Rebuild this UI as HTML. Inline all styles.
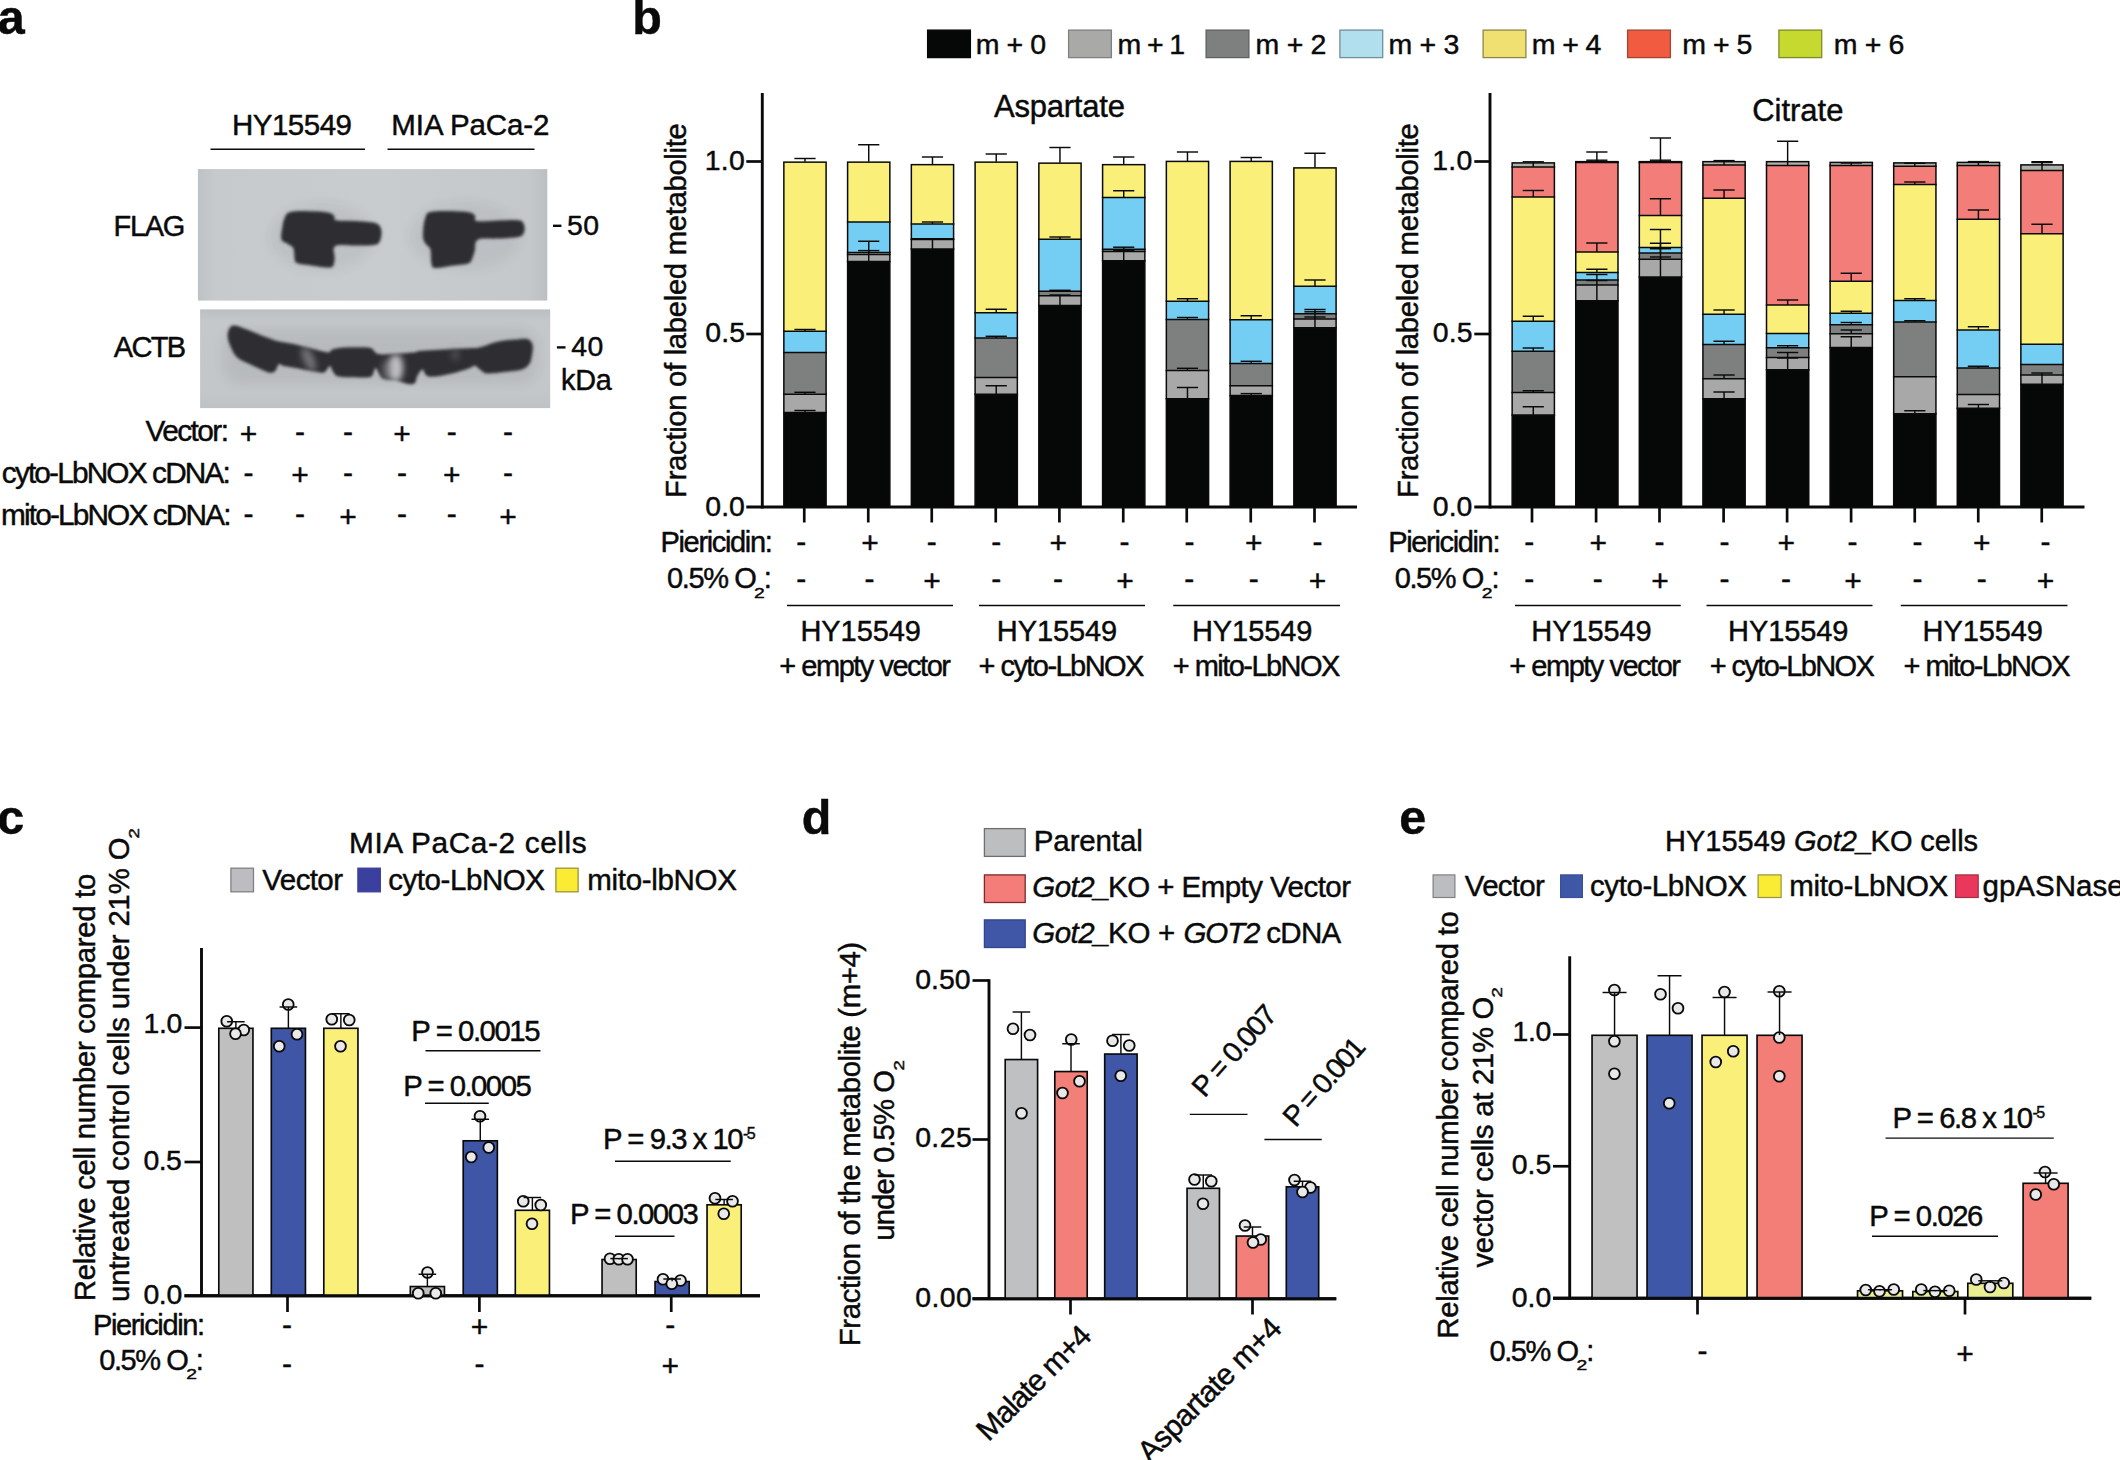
<!DOCTYPE html>
<html lang="en">
<head>
<meta charset="utf-8">
<title>Figure: LbNOX expression, labeled metabolite fractions and relative cell numbers</title>
<style>
html,body{margin:0;padding:0;background:#ffffff;}
body{width:2120px;height:1460px;overflow:hidden;}
svg{display:block;}
svg text{font-family:'Liberation Sans', Arial, Helvetica, sans-serif;fill:#0a0a0a;stroke:#0a0a0a;stroke-width:0.45px;stroke-linejoin:round;}
</style>
</head>
<body>
<svg width="2120" height="1460" viewBox="0 0 2120 1460">
<rect x="0" y="0" width="2120" height="1460" fill="#ffffff"/>
<defs>
<filter id="bl1" x="-10%" y="-10%" width="120%" height="120%"><feGaussianBlur stdDeviation="1.6"/></filter>
<filter id="bl2" x="-20%" y="-20%" width="140%" height="140%"><feGaussianBlur stdDeviation="3.2"/></filter>
<filter id="bl3" x="-30%" y="-30%" width="160%" height="160%"><feGaussianBlur stdDeviation="6"/></filter>
<linearGradient id="bg1" x1="0" y1="0" x2="1" y2="0"><stop offset="0" stop-color="#bfc2c5"/><stop offset="0.05" stop-color="#c6cacd"/><stop offset="0.5" stop-color="#c8ccce"/><stop offset="0.95" stop-color="#c5c8cb"/><stop offset="1" stop-color="#bcbfc2"/></linearGradient>
<linearGradient id="bg2" x1="0" y1="0" x2="0" y2="1"><stop offset="0" stop-color="#bcbfc2"/><stop offset="0.12" stop-color="#c5c8cb"/><stop offset="0.85" stop-color="#c4c7ca"/><stop offset="1" stop-color="#bfc2c5"/></linearGradient>
<clipPath id="cp1"><rect x="197.9" y="169.1" width="349.4" height="131.5"/></clipPath>
<clipPath id="cp2"><rect x="200.1" y="309.4" width="350.1" height="98.7"/></clipPath>
</defs>
<text x="-2.22" y="34.20" font-size="48.5" font-weight="bold" fill="#231f20" stroke="#231f20">a</text>
<text x="231.98" y="134.50" font-size="29.5" textLength="120.02" lengthAdjust="spacing">HY15549</text>
<text x="391.33" y="134.50" font-size="29.5" textLength="158.15" lengthAdjust="spacing">MIA PaCa-2</text>
<line x1="210.50" y1="149.30" x2="365.00" y2="149.30" stroke="#0a0a0a" stroke-width="1.4"/>
<line x1="387.50" y1="149.30" x2="534.50" y2="149.30" stroke="#0a0a0a" stroke-width="1.4"/>
<rect x="197.90" y="169.10" width="349.40" height="131.50" fill="url(#bg1)"/>
<g clip-path="url(#cp1)">
<g filter="url(#bl3)" fill="#2d2e32" opacity="0.06">
<ellipse cx="322" cy="237" rx="52" ry="34"/><ellipse cx="465" cy="236" rx="55" ry="34"/>
</g>
<g filter="url(#bl1)" fill="#2d2e32">
<path d="M290.5,211.9 C295.1,210.7 303.8,211.1 310.5,211.2 C317.2,211.3 323.8,211.6 328.0,212.4 C332.2,213.2 332.6,214.2 334.1,215.6 C335.6,217.0 332.5,219.3 336.4,220.3 C340.3,221.3 349.0,220.6 356.0,221.1 C363.0,221.6 370.8,221.8 375.2,222.9 C379.6,224.0 379.3,225.4 380.4,227.3 C381.5,229.2 381.6,231.0 381.5,233.4 C381.4,235.8 381.2,238.4 380.1,240.4 C379.0,242.4 379.5,243.8 375.2,244.7 C370.9,245.6 363.2,245.4 356.0,245.6 C348.8,245.8 339.2,243.8 335.4,246.0 C331.6,248.2 335.0,254.4 334.7,257.8 C334.4,261.2 334.5,263.0 333.6,264.8 C332.7,266.6 333.6,267.4 329.8,267.6 C326.0,267.8 318.2,266.5 312.3,265.7 C306.4,264.9 300.1,264.5 296.9,263.1 C293.7,261.7 295.1,260.5 294.5,257.8 C293.9,255.1 294.6,250.7 293.4,248.2 C292.2,245.7 289.9,245.5 287.8,243.9 C285.7,242.3 282.5,242.3 281.5,239.5 C280.5,236.7 281.6,232.0 282.2,228.1 C282.8,224.2 283.2,220.6 284.7,217.7 C286.2,214.8 285.9,213.1 290.5,211.9 Z"/>
<path d="M430.2,211.9 C434.7,210.7 443.2,210.9 450.3,211.0 C457.4,211.1 465.0,211.5 469.5,212.4 C474.0,213.3 473.8,214.3 475.1,215.9 C476.4,217.5 472.9,220.3 476.9,221.1 C480.9,221.9 490.0,220.7 497.5,220.6 C505.0,220.5 513.8,219.8 518.4,220.3 C523.0,220.8 522.2,221.7 523.3,223.2 C524.4,224.7 524.7,226.6 524.7,228.5 C524.7,230.4 524.4,232.2 523.3,233.7 C522.2,235.2 523.0,236.0 518.4,236.9 C513.8,237.8 504.8,238.1 497.5,238.6 C490.2,239.1 482.0,237.5 477.9,239.7 C473.8,241.9 475.8,247.4 474.8,250.8 C473.8,254.2 473.3,256.4 472.1,258.7 C470.9,261.0 471.7,262.1 468.1,263.4 C464.5,264.7 458.1,264.9 452.1,265.7 C446.1,266.5 438.6,268.5 434.9,268.0 C431.2,267.5 432.2,266.4 431.4,263.1 C430.6,259.8 431.4,252.9 430.4,249.4 C429.4,245.9 427.1,245.9 425.8,243.9 C424.5,241.9 423.5,241.3 423.1,238.3 C422.7,235.3 423.0,231.0 423.4,227.3 C423.8,223.6 424.1,220.5 425.3,217.7 C426.5,214.9 425.7,213.1 430.2,211.9 Z"/>
</g>
</g>
<rect x="200.10" y="309.40" width="350.10" height="98.70" fill="url(#bg2)"/>
<g clip-path="url(#cp2)">
<g filter="url(#bl3)" fill="#2d2e32" opacity="0.08"><rect x="222" y="328" width="316" height="56" rx="20"/></g>
<g filter="url(#bl1)" fill="#2d2e32">
<path d="M229.8,327.7 C231.2,325.7 231.9,325.2 235.1,325.6 C238.3,326.0 243.2,328.2 247.7,329.8 C252.2,331.4 255.2,332.9 259.9,334.7 C264.6,336.5 269.9,338.6 273.9,339.9 C277.9,341.2 278.4,341.2 282.2,342.0 C286.0,342.8 289.4,343.1 294.8,344.3 C300.2,345.5 306.3,347.3 312.3,348.7 C318.3,350.1 324.4,352.1 328.0,352.2 C331.6,352.3 329.6,350.2 332.4,349.4 C335.2,348.6 339.1,348.0 343.7,347.6 C348.3,347.2 352.8,347.2 357.7,347.3 C362.6,347.4 367.7,347.1 370.8,348.0 C373.9,348.9 373.5,351.1 375.2,352.2 C376.9,353.3 376.6,354.0 380.4,354.3 C384.2,354.6 389.8,354.0 396.1,353.6 C402.4,353.2 411.3,352.6 415.4,352.2 C419.5,351.8 415.4,351.5 418.9,351.1 C422.4,350.7 428.6,350.5 434.6,350.1 C440.6,349.7 445.2,349.4 452.1,349.0 C459.0,348.6 468.0,348.3 473.0,348.0 C478.0,347.7 475.6,348.4 480.0,347.3 C484.4,346.2 491.2,343.1 497.5,341.7 C503.8,340.3 509.6,340.1 514.9,339.6 C520.2,339.1 524.1,338.2 527.2,338.9 C530.3,339.6 531.1,341.5 532.1,343.4 C533.1,345.3 532.9,347.1 532.8,349.6 C532.7,352.1 532.1,354.8 531.5,357.4 C530.9,360.0 531.0,361.9 529.3,364.1 C527.6,366.3 526.4,368.2 521.9,369.6 C517.4,371.0 510.8,371.4 504.5,372.1 C498.2,372.8 491.4,373.9 487.0,373.5 C482.6,373.1 482.2,371.0 480.0,369.6 C477.8,368.2 476.7,366.1 474.8,365.8 C472.9,365.5 473.6,366.8 469.5,368.2 C465.4,369.6 458.4,372.0 452.1,373.5 C445.8,375.0 439.3,376.3 434.6,376.6 C429.9,376.9 428.4,376.5 426.2,375.2 C424.0,373.9 424.0,369.3 422.4,369.6 C420.8,369.9 418.4,374.2 417.1,376.6 C415.8,379.0 416.6,381.6 415.0,382.9 C413.4,384.2 411.8,384.4 408.4,384.0 C405.0,383.6 400.7,381.5 396.1,380.5 C391.5,379.5 386.1,379.7 383.0,378.4 C379.9,377.1 380.4,375.4 379.0,373.5 C377.6,371.6 376.7,367.6 375.5,367.9 C374.3,368.2 373.9,373.2 372.6,374.9 C371.3,376.6 371.5,376.9 368.2,377.3 C364.9,377.7 359.5,377.4 354.2,377.3 C348.9,377.2 342.3,377.7 338.5,376.6 C334.7,375.5 334.5,373.3 332.9,371.4 C331.3,369.5 331.2,366.0 329.8,366.1 C328.4,366.2 326.8,371.0 324.9,372.1 C323.0,373.2 323.5,372.9 319.3,372.4 C315.1,371.9 308.1,370.4 301.8,369.3 C295.5,368.2 288.4,367.0 284.3,366.1 C280.2,365.2 280.7,363.3 279.1,364.1 C277.5,364.9 277.1,368.9 275.6,370.5 C274.1,372.1 272.9,372.8 270.7,372.8 C268.5,372.8 267.2,372.1 263.4,370.5 C259.6,368.9 254.1,366.5 249.4,364.1 C244.7,361.7 240.5,360.3 237.2,357.4 C233.9,354.5 232.8,351.6 231.1,347.8 C229.4,344.0 227.8,340.1 227.6,336.5 C227.4,332.9 228.5,329.7 229.8,327.7 Z"/>
</g>
<g filter="url(#bl2)">
<ellipse cx="308.8" cy="359.2" rx="5.5" ry="13" fill="#8e8f93" opacity="0.7" transform="rotate(-25 308.8 359.2)"/>
<ellipse cx="395.8" cy="367.9" rx="7.5" ry="14" fill="#c6c7c9" opacity="0.95"/>
<ellipse cx="386.8" cy="369.9" rx="5" ry="10" fill="#85868a" opacity="0.6"/>
<ellipse cx="455.5" cy="354.8" rx="4" ry="6" fill="#6a6b70" opacity="0.5"/>
</g>
</g>
<text x="113.62" y="236.00" font-size="29" textLength="71.65" lengthAdjust="spacing">FLAG</text>
<text x="113.84" y="356.50" font-size="29" textLength="72.29" lengthAdjust="spacing">ACTB</text>
<line x1="553.00" y1="225.80" x2="561.40" y2="225.80" stroke="#0a0a0a" stroke-width="2.4"/>
<text x="566.96" y="234.50" font-size="28.4" textLength="32.05" lengthAdjust="spacing">50</text>
<line x1="556.90" y1="347.40" x2="565.50" y2="347.40" stroke="#0a0a0a" stroke-width="2.4"/>
<text x="571.35" y="356.00" font-size="28.4" textLength="31.86" lengthAdjust="spacing">40</text>
<text x="561.06" y="390.30" font-size="28.8" textLength="50.64" lengthAdjust="spacing">kDa</text>
<text x="145.47" y="441.25" font-size="29.8" textLength="83.50" lengthAdjust="spacing">Vector:</text>
<text x="1.83" y="482.75" font-size="29.8" textLength="228.99" lengthAdjust="spacing">cyto-LbNOX cDNA:</text>
<text x="1.12" y="524.75" font-size="29.8" textLength="230.35" lengthAdjust="spacing">mito-LbNOX cDNA:</text>
<text x="248.50" y="444.28" font-size="30" text-anchor="middle">+</text>
<text x="300.00" y="441.70" font-size="30" text-anchor="middle">-</text>
<text x="348.00" y="441.70" font-size="30" text-anchor="middle">-</text>
<text x="402.00" y="444.28" font-size="30" text-anchor="middle">+</text>
<text x="451.80" y="441.70" font-size="30" text-anchor="middle">-</text>
<text x="508.00" y="441.70" font-size="30" text-anchor="middle">-</text>
<text x="248.50" y="482.70" font-size="30" text-anchor="middle">-</text>
<text x="300.00" y="485.28" font-size="30" text-anchor="middle">+</text>
<text x="348.00" y="482.70" font-size="30" text-anchor="middle">-</text>
<text x="402.00" y="482.70" font-size="30" text-anchor="middle">-</text>
<text x="451.80" y="485.28" font-size="30" text-anchor="middle">+</text>
<text x="508.00" y="482.70" font-size="30" text-anchor="middle">-</text>
<text x="248.50" y="524.30" font-size="30" text-anchor="middle">-</text>
<text x="300.00" y="524.30" font-size="30" text-anchor="middle">-</text>
<text x="348.00" y="526.88" font-size="30" text-anchor="middle">+</text>
<text x="402.00" y="524.30" font-size="30" text-anchor="middle">-</text>
<text x="451.80" y="524.30" font-size="30" text-anchor="middle">-</text>
<text x="508.00" y="526.88" font-size="30" text-anchor="middle">+</text>
<text x="632.30" y="34.00" font-size="48.5" font-weight="bold" fill="#231f20" stroke="#231f20">b</text>
<rect x="927.60" y="30.10" width="42.80" height="27.50" fill="#060808" stroke="#060808" stroke-width="1.3"/>
<text x="975.86" y="53.50" font-size="28.5" textLength="70.26" lengthAdjust="spacing">m + 0</text>
<rect x="1068.60" y="30.10" width="42.80" height="27.50" fill="#a9a9a7" stroke="#7f807f" stroke-width="1.3"/>
<text x="1117.61" y="53.50" font-size="28.5" textLength="67.53" lengthAdjust="spacing">m + 1</text>
<rect x="1206.10" y="30.10" width="42.80" height="27.50" fill="#7e807f" stroke="#5f6160" stroke-width="1.3"/>
<text x="1255.61" y="53.50" font-size="28.5" textLength="70.83" lengthAdjust="spacing">m + 2</text>
<rect x="1339.90" y="30.10" width="42.80" height="27.50" fill="#b2dfee" stroke="#6f8f9a" stroke-width="1.3"/>
<text x="1388.61" y="53.50" font-size="28.5" textLength="70.65" lengthAdjust="spacing">m + 3</text>
<rect x="1483.10" y="30.10" width="42.80" height="27.50" fill="#efe071" stroke="#8f8748" stroke-width="1.3"/>
<text x="1531.86" y="53.50" font-size="28.5" textLength="69.48" lengthAdjust="spacing">m + 4</text>
<rect x="1627.60" y="30.10" width="42.80" height="27.50" fill="#f15b40" stroke="#a04632" stroke-width="1.3"/>
<text x="1682.36" y="53.50" font-size="28.5" textLength="70.09" lengthAdjust="spacing">m + 5</text>
<rect x="1778.90" y="30.10" width="42.80" height="27.50" fill="#c6d92f" stroke="#7f8a2a" stroke-width="1.3"/>
<text x="1833.86" y="53.50" font-size="28.5" textLength="70.40" lengthAdjust="spacing">m + 6</text>
<line x1="762.30" y1="93.00" x2="762.30" y2="508.45" stroke="#0a0a0a" stroke-width="2.9"/>
<line x1="746.30" y1="507.00" x2="1357.00" y2="507.00" stroke="#0a0a0a" stroke-width="2.9"/>
<line x1="746.30" y1="161.50" x2="762.30" y2="161.50" stroke="#0a0a0a" stroke-width="2.7"/>
<text x="704.64" y="169.90" font-size="28.4" textLength="40.27" lengthAdjust="spacing">1.0</text>
<line x1="746.30" y1="334.00" x2="762.30" y2="334.00" stroke="#0a0a0a" stroke-width="2.7"/>
<text x="705.29" y="342.40" font-size="28.4" textLength="39.70" lengthAdjust="spacing">0.5</text>
<text x="705.29" y="515.50" font-size="28.4" textLength="39.62" lengthAdjust="spacing">0.0</text>
<line x1="804.25" y1="507.00" x2="804.25" y2="522.50" stroke="#0a0a0a" stroke-width="2.7"/>
<line x1="868.25" y1="507.00" x2="868.25" y2="522.50" stroke="#0a0a0a" stroke-width="2.7"/>
<line x1="931.75" y1="507.00" x2="931.75" y2="522.50" stroke="#0a0a0a" stroke-width="2.7"/>
<line x1="995.75" y1="507.00" x2="995.75" y2="522.50" stroke="#0a0a0a" stroke-width="2.7"/>
<line x1="1059.40" y1="507.00" x2="1059.40" y2="522.50" stroke="#0a0a0a" stroke-width="2.7"/>
<line x1="1123.25" y1="507.00" x2="1123.25" y2="522.50" stroke="#0a0a0a" stroke-width="2.7"/>
<line x1="1186.75" y1="507.00" x2="1186.75" y2="522.50" stroke="#0a0a0a" stroke-width="2.7"/>
<line x1="1250.75" y1="507.00" x2="1250.75" y2="522.50" stroke="#0a0a0a" stroke-width="2.7"/>
<line x1="1314.50" y1="507.00" x2="1314.50" y2="522.50" stroke="#0a0a0a" stroke-width="2.7"/>
<text x="686.30" y="497.90" font-size="29.3" textLength="374.71" lengthAdjust="spacing" transform="rotate(-90 686.30 497.90)">Fraction of labeled metabolite</text>
<rect x="783.85" y="161.75" width="42.25" height="169.50" fill="#f9ef79"/>
<rect x="783.85" y="331.25" width="42.25" height="21.25" fill="#74cdf3"/>
<rect x="783.85" y="352.50" width="42.25" height="41.75" fill="#7e8080"/>
<rect x="783.85" y="394.25" width="42.25" height="18.25" fill="#a8a8a8"/>
<rect x="783.85" y="412.50" width="42.25" height="94.50" fill="#060808"/>
<line x1="783.10" y1="331.25" x2="826.85" y2="331.25" stroke="#0a0a0a" stroke-width="1.45"/>
<line x1="783.10" y1="352.50" x2="826.85" y2="352.50" stroke="#0a0a0a" stroke-width="1.45"/>
<line x1="783.10" y1="394.25" x2="826.85" y2="394.25" stroke="#0a0a0a" stroke-width="1.45"/>
<line x1="783.10" y1="412.50" x2="826.85" y2="412.50" stroke="#0a0a0a" stroke-width="1.45"/>
<rect x="783.85" y="162.15" width="42.25" height="344.85" fill="none" stroke="#0a0a0a" stroke-width="1.5"/>
<line x1="794.38" y1="158.50" x2="815.58" y2="158.50" stroke="#0a0a0a" stroke-width="1.45"/>
<line x1="804.98" y1="158.50" x2="804.98" y2="161.75" stroke="#0a0a0a" stroke-width="1.45"/>
<line x1="794.38" y1="329.50" x2="815.58" y2="329.50" stroke="#0a0a0a" stroke-width="1.45"/>
<line x1="804.98" y1="329.50" x2="804.98" y2="331.25" stroke="#0a0a0a" stroke-width="1.45"/>
<line x1="794.38" y1="392.30" x2="815.58" y2="392.30" stroke="#0a0a0a" stroke-width="1.45"/>
<line x1="804.98" y1="392.30" x2="804.98" y2="394.25" stroke="#0a0a0a" stroke-width="1.45"/>
<line x1="794.38" y1="410.50" x2="815.58" y2="410.50" stroke="#0a0a0a" stroke-width="1.45"/>
<line x1="804.98" y1="410.50" x2="804.98" y2="412.50" stroke="#0a0a0a" stroke-width="1.45"/>
<rect x="847.60" y="161.75" width="42.25" height="60.25" fill="#f9ef79"/>
<rect x="847.60" y="222.00" width="42.25" height="30.50" fill="#74cdf3"/>
<rect x="847.60" y="252.50" width="42.25" height="2.10" fill="#7e8080"/>
<rect x="847.60" y="254.60" width="42.25" height="6.90" fill="#a8a8a8"/>
<rect x="847.60" y="261.50" width="42.25" height="245.50" fill="#060808"/>
<line x1="846.85" y1="222.00" x2="890.60" y2="222.00" stroke="#0a0a0a" stroke-width="1.45"/>
<line x1="846.85" y1="252.50" x2="890.60" y2="252.50" stroke="#0a0a0a" stroke-width="1.45"/>
<line x1="846.85" y1="254.60" x2="890.60" y2="254.60" stroke="#0a0a0a" stroke-width="1.45"/>
<line x1="846.85" y1="261.50" x2="890.60" y2="261.50" stroke="#0a0a0a" stroke-width="1.45"/>
<rect x="847.60" y="162.15" width="42.25" height="344.85" fill="none" stroke="#0a0a0a" stroke-width="1.5"/>
<line x1="858.12" y1="144.75" x2="879.33" y2="144.75" stroke="#0a0a0a" stroke-width="1.45"/>
<line x1="868.73" y1="144.75" x2="868.73" y2="161.75" stroke="#0a0a0a" stroke-width="1.45"/>
<line x1="858.12" y1="241.25" x2="879.33" y2="241.25" stroke="#0a0a0a" stroke-width="1.45"/>
<line x1="868.73" y1="241.25" x2="868.73" y2="261.50" stroke="#0a0a0a" stroke-width="1.45"/>
<line x1="858.12" y1="250.60" x2="879.33" y2="250.60" stroke="#0a0a0a" stroke-width="1.45"/>
<line x1="868.73" y1="250.60" x2="868.73" y2="252.50" stroke="#0a0a0a" stroke-width="1.45"/>
<rect x="911.35" y="164.25" width="42.25" height="59.75" fill="#f9ef79"/>
<rect x="911.35" y="224.00" width="42.25" height="14.75" fill="#74cdf3"/>
<rect x="911.35" y="238.75" width="42.25" height="0.85" fill="#7e8080"/>
<rect x="911.35" y="239.60" width="42.25" height="9.40" fill="#a8a8a8"/>
<rect x="911.35" y="249.00" width="42.25" height="258.00" fill="#060808"/>
<line x1="910.60" y1="224.00" x2="954.35" y2="224.00" stroke="#0a0a0a" stroke-width="1.45"/>
<line x1="910.60" y1="238.75" x2="954.35" y2="238.75" stroke="#0a0a0a" stroke-width="1.45"/>
<line x1="910.60" y1="239.60" x2="954.35" y2="239.60" stroke="#0a0a0a" stroke-width="1.45"/>
<line x1="910.60" y1="249.00" x2="954.35" y2="249.00" stroke="#0a0a0a" stroke-width="1.45"/>
<rect x="911.35" y="164.65" width="42.25" height="342.35" fill="none" stroke="#0a0a0a" stroke-width="1.5"/>
<line x1="921.88" y1="157.00" x2="943.08" y2="157.00" stroke="#0a0a0a" stroke-width="1.45"/>
<line x1="932.48" y1="157.00" x2="932.48" y2="164.25" stroke="#0a0a0a" stroke-width="1.45"/>
<line x1="921.88" y1="222.00" x2="943.08" y2="222.00" stroke="#0a0a0a" stroke-width="1.45"/>
<line x1="932.48" y1="222.00" x2="932.48" y2="224.00" stroke="#0a0a0a" stroke-width="1.45"/>
<line x1="921.88" y1="239.00" x2="943.08" y2="239.00" stroke="#0a0a0a" stroke-width="1.45"/>
<line x1="932.48" y1="239.00" x2="932.48" y2="249.00" stroke="#0a0a0a" stroke-width="1.45"/>
<rect x="975.10" y="161.75" width="42.25" height="151.00" fill="#f9ef79"/>
<rect x="975.10" y="312.75" width="42.25" height="25.25" fill="#74cdf3"/>
<rect x="975.10" y="338.00" width="42.25" height="39.50" fill="#7e8080"/>
<rect x="975.10" y="377.50" width="42.25" height="16.75" fill="#a8a8a8"/>
<rect x="975.10" y="394.25" width="42.25" height="112.75" fill="#060808"/>
<line x1="974.35" y1="312.75" x2="1018.10" y2="312.75" stroke="#0a0a0a" stroke-width="1.45"/>
<line x1="974.35" y1="338.00" x2="1018.10" y2="338.00" stroke="#0a0a0a" stroke-width="1.45"/>
<line x1="974.35" y1="377.50" x2="1018.10" y2="377.50" stroke="#0a0a0a" stroke-width="1.45"/>
<line x1="974.35" y1="394.25" x2="1018.10" y2="394.25" stroke="#0a0a0a" stroke-width="1.45"/>
<rect x="975.10" y="162.15" width="42.25" height="344.85" fill="none" stroke="#0a0a0a" stroke-width="1.5"/>
<line x1="985.62" y1="154.00" x2="1006.83" y2="154.00" stroke="#0a0a0a" stroke-width="1.45"/>
<line x1="996.23" y1="154.00" x2="996.23" y2="161.75" stroke="#0a0a0a" stroke-width="1.45"/>
<line x1="985.62" y1="309.25" x2="1006.83" y2="309.25" stroke="#0a0a0a" stroke-width="1.45"/>
<line x1="996.23" y1="309.25" x2="996.23" y2="312.75" stroke="#0a0a0a" stroke-width="1.45"/>
<line x1="985.62" y1="336.30" x2="1006.83" y2="336.30" stroke="#0a0a0a" stroke-width="1.45"/>
<line x1="996.23" y1="336.30" x2="996.23" y2="338.00" stroke="#0a0a0a" stroke-width="1.45"/>
<line x1="985.62" y1="385.75" x2="1006.83" y2="385.75" stroke="#0a0a0a" stroke-width="1.45"/>
<line x1="996.23" y1="385.75" x2="996.23" y2="394.25" stroke="#0a0a0a" stroke-width="1.45"/>
<rect x="1038.85" y="162.75" width="42.25" height="76.50" fill="#f9ef79"/>
<rect x="1038.85" y="239.25" width="42.25" height="52.00" fill="#74cdf3"/>
<rect x="1038.85" y="291.25" width="42.25" height="4.50" fill="#7e8080"/>
<rect x="1038.85" y="295.75" width="42.25" height="9.75" fill="#a8a8a8"/>
<rect x="1038.85" y="305.50" width="42.25" height="201.50" fill="#060808"/>
<line x1="1038.10" y1="239.25" x2="1081.85" y2="239.25" stroke="#0a0a0a" stroke-width="1.45"/>
<line x1="1038.10" y1="291.25" x2="1081.85" y2="291.25" stroke="#0a0a0a" stroke-width="1.45"/>
<line x1="1038.10" y1="295.75" x2="1081.85" y2="295.75" stroke="#0a0a0a" stroke-width="1.45"/>
<line x1="1038.10" y1="305.50" x2="1081.85" y2="305.50" stroke="#0a0a0a" stroke-width="1.45"/>
<rect x="1038.85" y="163.15" width="42.25" height="343.85" fill="none" stroke="#0a0a0a" stroke-width="1.5"/>
<line x1="1049.38" y1="147.50" x2="1070.57" y2="147.50" stroke="#0a0a0a" stroke-width="1.45"/>
<line x1="1059.97" y1="147.50" x2="1059.97" y2="162.75" stroke="#0a0a0a" stroke-width="1.45"/>
<line x1="1049.38" y1="237.00" x2="1070.57" y2="237.00" stroke="#0a0a0a" stroke-width="1.45"/>
<line x1="1059.97" y1="237.00" x2="1059.97" y2="239.25" stroke="#0a0a0a" stroke-width="1.45"/>
<line x1="1049.38" y1="290.30" x2="1070.57" y2="290.30" stroke="#0a0a0a" stroke-width="1.45"/>
<line x1="1059.97" y1="290.30" x2="1059.97" y2="291.25" stroke="#0a0a0a" stroke-width="1.45"/>
<line x1="1049.38" y1="295.00" x2="1070.57" y2="295.00" stroke="#0a0a0a" stroke-width="1.45"/>
<line x1="1059.97" y1="295.00" x2="1059.97" y2="305.50" stroke="#0a0a0a" stroke-width="1.45"/>
<rect x="1102.60" y="164.25" width="42.25" height="33.25" fill="#f9ef79"/>
<rect x="1102.60" y="197.50" width="42.25" height="51.75" fill="#74cdf3"/>
<rect x="1102.60" y="249.25" width="42.25" height="2.25" fill="#7e8080"/>
<rect x="1102.60" y="251.50" width="42.25" height="9.25" fill="#a8a8a8"/>
<rect x="1102.60" y="260.75" width="42.25" height="246.25" fill="#060808"/>
<line x1="1101.85" y1="197.50" x2="1145.60" y2="197.50" stroke="#0a0a0a" stroke-width="1.45"/>
<line x1="1101.85" y1="249.25" x2="1145.60" y2="249.25" stroke="#0a0a0a" stroke-width="1.45"/>
<line x1="1101.85" y1="251.50" x2="1145.60" y2="251.50" stroke="#0a0a0a" stroke-width="1.45"/>
<line x1="1101.85" y1="260.75" x2="1145.60" y2="260.75" stroke="#0a0a0a" stroke-width="1.45"/>
<rect x="1102.60" y="164.65" width="42.25" height="342.35" fill="none" stroke="#0a0a0a" stroke-width="1.5"/>
<line x1="1113.12" y1="157.00" x2="1134.32" y2="157.00" stroke="#0a0a0a" stroke-width="1.45"/>
<line x1="1123.72" y1="157.00" x2="1123.72" y2="164.25" stroke="#0a0a0a" stroke-width="1.45"/>
<line x1="1113.12" y1="190.75" x2="1134.32" y2="190.75" stroke="#0a0a0a" stroke-width="1.45"/>
<line x1="1123.72" y1="190.75" x2="1123.72" y2="197.50" stroke="#0a0a0a" stroke-width="1.45"/>
<line x1="1113.12" y1="247.20" x2="1134.32" y2="247.20" stroke="#0a0a0a" stroke-width="1.45"/>
<line x1="1123.72" y1="247.20" x2="1123.72" y2="249.25" stroke="#0a0a0a" stroke-width="1.45"/>
<line x1="1113.12" y1="250.50" x2="1134.32" y2="250.50" stroke="#0a0a0a" stroke-width="1.45"/>
<line x1="1123.72" y1="250.50" x2="1123.72" y2="260.75" stroke="#0a0a0a" stroke-width="1.45"/>
<rect x="1166.35" y="161.00" width="42.25" height="140.25" fill="#f9ef79"/>
<rect x="1166.35" y="301.25" width="42.25" height="18.25" fill="#74cdf3"/>
<rect x="1166.35" y="319.50" width="42.25" height="51.00" fill="#7e8080"/>
<rect x="1166.35" y="370.50" width="42.25" height="28.25" fill="#a8a8a8"/>
<rect x="1166.35" y="398.75" width="42.25" height="108.25" fill="#060808"/>
<line x1="1165.60" y1="301.25" x2="1209.35" y2="301.25" stroke="#0a0a0a" stroke-width="1.45"/>
<line x1="1165.60" y1="319.50" x2="1209.35" y2="319.50" stroke="#0a0a0a" stroke-width="1.45"/>
<line x1="1165.60" y1="370.50" x2="1209.35" y2="370.50" stroke="#0a0a0a" stroke-width="1.45"/>
<line x1="1165.60" y1="398.75" x2="1209.35" y2="398.75" stroke="#0a0a0a" stroke-width="1.45"/>
<rect x="1166.35" y="161.40" width="42.25" height="345.60" fill="none" stroke="#0a0a0a" stroke-width="1.5"/>
<line x1="1176.88" y1="152.00" x2="1198.07" y2="152.00" stroke="#0a0a0a" stroke-width="1.45"/>
<line x1="1187.47" y1="152.00" x2="1187.47" y2="161.00" stroke="#0a0a0a" stroke-width="1.45"/>
<line x1="1176.88" y1="298.75" x2="1198.07" y2="298.75" stroke="#0a0a0a" stroke-width="1.45"/>
<line x1="1187.47" y1="298.75" x2="1187.47" y2="301.25" stroke="#0a0a0a" stroke-width="1.45"/>
<line x1="1176.88" y1="317.50" x2="1198.07" y2="317.50" stroke="#0a0a0a" stroke-width="1.45"/>
<line x1="1187.47" y1="317.50" x2="1187.47" y2="319.50" stroke="#0a0a0a" stroke-width="1.45"/>
<line x1="1176.88" y1="368.30" x2="1198.07" y2="368.30" stroke="#0a0a0a" stroke-width="1.45"/>
<line x1="1187.47" y1="368.30" x2="1187.47" y2="370.50" stroke="#0a0a0a" stroke-width="1.45"/>
<line x1="1176.88" y1="387.50" x2="1198.07" y2="387.50" stroke="#0a0a0a" stroke-width="1.45"/>
<line x1="1187.47" y1="387.50" x2="1187.47" y2="398.75" stroke="#0a0a0a" stroke-width="1.45"/>
<rect x="1230.10" y="161.00" width="42.25" height="158.75" fill="#f9ef79"/>
<rect x="1230.10" y="319.75" width="42.25" height="43.75" fill="#74cdf3"/>
<rect x="1230.10" y="363.50" width="42.25" height="22.25" fill="#7e8080"/>
<rect x="1230.10" y="385.75" width="42.25" height="9.75" fill="#a8a8a8"/>
<rect x="1230.10" y="395.50" width="42.25" height="111.50" fill="#060808"/>
<line x1="1229.35" y1="319.75" x2="1273.10" y2="319.75" stroke="#0a0a0a" stroke-width="1.45"/>
<line x1="1229.35" y1="363.50" x2="1273.10" y2="363.50" stroke="#0a0a0a" stroke-width="1.45"/>
<line x1="1229.35" y1="385.75" x2="1273.10" y2="385.75" stroke="#0a0a0a" stroke-width="1.45"/>
<line x1="1229.35" y1="395.50" x2="1273.10" y2="395.50" stroke="#0a0a0a" stroke-width="1.45"/>
<rect x="1230.10" y="161.40" width="42.25" height="345.60" fill="none" stroke="#0a0a0a" stroke-width="1.5"/>
<line x1="1240.62" y1="157.50" x2="1261.82" y2="157.50" stroke="#0a0a0a" stroke-width="1.45"/>
<line x1="1251.22" y1="157.50" x2="1251.22" y2="161.00" stroke="#0a0a0a" stroke-width="1.45"/>
<line x1="1240.62" y1="315.75" x2="1261.82" y2="315.75" stroke="#0a0a0a" stroke-width="1.45"/>
<line x1="1251.22" y1="315.75" x2="1251.22" y2="319.75" stroke="#0a0a0a" stroke-width="1.45"/>
<line x1="1240.62" y1="361.30" x2="1261.82" y2="361.30" stroke="#0a0a0a" stroke-width="1.45"/>
<line x1="1251.22" y1="361.30" x2="1251.22" y2="363.50" stroke="#0a0a0a" stroke-width="1.45"/>
<line x1="1240.62" y1="393.60" x2="1261.82" y2="393.60" stroke="#0a0a0a" stroke-width="1.45"/>
<line x1="1251.22" y1="393.60" x2="1251.22" y2="395.50" stroke="#0a0a0a" stroke-width="1.45"/>
<rect x="1293.85" y="167.50" width="42.25" height="118.75" fill="#f9ef79"/>
<rect x="1293.85" y="286.25" width="42.25" height="27.50" fill="#74cdf3"/>
<rect x="1293.85" y="313.75" width="42.25" height="5.25" fill="#7e8080"/>
<rect x="1293.85" y="319.00" width="42.25" height="8.75" fill="#a8a8a8"/>
<rect x="1293.85" y="327.75" width="42.25" height="179.25" fill="#060808"/>
<line x1="1293.10" y1="286.25" x2="1336.85" y2="286.25" stroke="#0a0a0a" stroke-width="1.45"/>
<line x1="1293.10" y1="313.75" x2="1336.85" y2="313.75" stroke="#0a0a0a" stroke-width="1.45"/>
<line x1="1293.10" y1="319.00" x2="1336.85" y2="319.00" stroke="#0a0a0a" stroke-width="1.45"/>
<line x1="1293.10" y1="327.75" x2="1336.85" y2="327.75" stroke="#0a0a0a" stroke-width="1.45"/>
<rect x="1293.85" y="167.90" width="42.25" height="339.10" fill="none" stroke="#0a0a0a" stroke-width="1.5"/>
<line x1="1304.38" y1="153.25" x2="1325.57" y2="153.25" stroke="#0a0a0a" stroke-width="1.45"/>
<line x1="1314.97" y1="153.25" x2="1314.97" y2="167.50" stroke="#0a0a0a" stroke-width="1.45"/>
<line x1="1304.38" y1="280.00" x2="1325.57" y2="280.00" stroke="#0a0a0a" stroke-width="1.45"/>
<line x1="1314.97" y1="280.00" x2="1314.97" y2="286.25" stroke="#0a0a0a" stroke-width="1.45"/>
<line x1="1304.38" y1="309.50" x2="1325.57" y2="309.50" stroke="#0a0a0a" stroke-width="1.45"/>
<line x1="1314.97" y1="309.50" x2="1314.97" y2="327.75" stroke="#0a0a0a" stroke-width="1.45"/>
<line x1="1304.38" y1="311.80" x2="1325.57" y2="311.80" stroke="#0a0a0a" stroke-width="1.45"/>
<line x1="1314.97" y1="311.80" x2="1314.97" y2="313.75" stroke="#0a0a0a" stroke-width="1.45"/>
<line x1="1304.38" y1="317.00" x2="1325.57" y2="317.00" stroke="#0a0a0a" stroke-width="1.45"/>
<line x1="1314.97" y1="317.00" x2="1314.97" y2="319.00" stroke="#0a0a0a" stroke-width="1.45"/>
<text x="993.94" y="116.90" font-size="31" textLength="130.94" lengthAdjust="spacing">Aspartate</text>
<line x1="1490.00" y1="93.00" x2="1490.00" y2="508.45" stroke="#0a0a0a" stroke-width="2.9"/>
<line x1="1474.30" y1="507.00" x2="2084.50" y2="507.00" stroke="#0a0a0a" stroke-width="2.9"/>
<line x1="1474.30" y1="161.50" x2="1490.00" y2="161.50" stroke="#0a0a0a" stroke-width="2.7"/>
<text x="1432.14" y="169.90" font-size="28.4" textLength="40.27" lengthAdjust="spacing">1.0</text>
<line x1="1474.30" y1="334.00" x2="1490.00" y2="334.00" stroke="#0a0a0a" stroke-width="2.7"/>
<text x="1432.79" y="342.40" font-size="28.4" textLength="39.70" lengthAdjust="spacing">0.5</text>
<text x="1432.79" y="515.50" font-size="28.4" textLength="39.62" lengthAdjust="spacing">0.0</text>
<line x1="1532.00" y1="507.00" x2="1532.00" y2="522.50" stroke="#0a0a0a" stroke-width="2.7"/>
<line x1="1596.10" y1="507.00" x2="1596.10" y2="522.50" stroke="#0a0a0a" stroke-width="2.7"/>
<line x1="1659.50" y1="507.00" x2="1659.50" y2="522.50" stroke="#0a0a0a" stroke-width="2.7"/>
<line x1="1723.60" y1="507.00" x2="1723.60" y2="522.50" stroke="#0a0a0a" stroke-width="2.7"/>
<line x1="1787.10" y1="507.00" x2="1787.10" y2="522.50" stroke="#0a0a0a" stroke-width="2.7"/>
<line x1="1851.10" y1="507.00" x2="1851.10" y2="522.50" stroke="#0a0a0a" stroke-width="2.7"/>
<line x1="1914.75" y1="507.00" x2="1914.75" y2="522.50" stroke="#0a0a0a" stroke-width="2.7"/>
<line x1="1978.25" y1="507.00" x2="1978.25" y2="522.50" stroke="#0a0a0a" stroke-width="2.7"/>
<line x1="2041.75" y1="507.00" x2="2041.75" y2="522.50" stroke="#0a0a0a" stroke-width="2.7"/>
<text x="1418.00" y="497.90" font-size="29.3" textLength="374.71" lengthAdjust="spacing" transform="rotate(-90 1418.00 497.90)">Fraction of labeled metabolite</text>
<rect x="1512.15" y="162.50" width="42.25" height="4.50" fill="#aeb0aa"/>
<rect x="1512.15" y="167.00" width="42.25" height="30.00" fill="#f37d78"/>
<rect x="1512.15" y="197.00" width="42.25" height="124.25" fill="#f9ef79"/>
<rect x="1512.15" y="321.25" width="42.25" height="30.00" fill="#74cdf3"/>
<rect x="1512.15" y="351.25" width="42.25" height="41.25" fill="#7e8080"/>
<rect x="1512.15" y="392.50" width="42.25" height="22.50" fill="#a8a8a8"/>
<rect x="1512.15" y="415.00" width="42.25" height="92.00" fill="#060808"/>
<line x1="1511.40" y1="167.00" x2="1555.15" y2="167.00" stroke="#0a0a0a" stroke-width="1.45"/>
<line x1="1511.40" y1="197.00" x2="1555.15" y2="197.00" stroke="#0a0a0a" stroke-width="1.45"/>
<line x1="1511.40" y1="321.25" x2="1555.15" y2="321.25" stroke="#0a0a0a" stroke-width="1.45"/>
<line x1="1511.40" y1="351.25" x2="1555.15" y2="351.25" stroke="#0a0a0a" stroke-width="1.45"/>
<line x1="1511.40" y1="392.50" x2="1555.15" y2="392.50" stroke="#0a0a0a" stroke-width="1.45"/>
<line x1="1511.40" y1="415.00" x2="1555.15" y2="415.00" stroke="#0a0a0a" stroke-width="1.45"/>
<rect x="1512.15" y="162.90" width="42.25" height="344.10" fill="none" stroke="#0a0a0a" stroke-width="1.5"/>
<line x1="1522.68" y1="161.80" x2="1543.88" y2="161.80" stroke="#0a0a0a" stroke-width="1.45"/>
<line x1="1533.28" y1="161.80" x2="1533.28" y2="167.00" stroke="#0a0a0a" stroke-width="1.45"/>
<line x1="1522.68" y1="190.50" x2="1543.88" y2="190.50" stroke="#0a0a0a" stroke-width="1.45"/>
<line x1="1533.28" y1="190.50" x2="1533.28" y2="197.00" stroke="#0a0a0a" stroke-width="1.45"/>
<line x1="1522.68" y1="316.25" x2="1543.88" y2="316.25" stroke="#0a0a0a" stroke-width="1.45"/>
<line x1="1533.28" y1="316.25" x2="1533.28" y2="321.25" stroke="#0a0a0a" stroke-width="1.45"/>
<line x1="1522.68" y1="348.00" x2="1543.88" y2="348.00" stroke="#0a0a0a" stroke-width="1.45"/>
<line x1="1533.28" y1="348.00" x2="1533.28" y2="351.25" stroke="#0a0a0a" stroke-width="1.45"/>
<line x1="1522.68" y1="390.75" x2="1543.88" y2="390.75" stroke="#0a0a0a" stroke-width="1.45"/>
<line x1="1533.28" y1="390.75" x2="1533.28" y2="392.50" stroke="#0a0a0a" stroke-width="1.45"/>
<line x1="1522.68" y1="406.75" x2="1543.88" y2="406.75" stroke="#0a0a0a" stroke-width="1.45"/>
<line x1="1533.28" y1="406.75" x2="1533.28" y2="415.00" stroke="#0a0a0a" stroke-width="1.45"/>
<rect x="1575.74" y="161.25" width="42.25" height="1.15" fill="#aeb0aa"/>
<rect x="1575.74" y="162.40" width="42.25" height="89.60" fill="#f37d78"/>
<rect x="1575.74" y="252.00" width="42.25" height="20.50" fill="#f9ef79"/>
<rect x="1575.74" y="272.50" width="42.25" height="7.50" fill="#74cdf3"/>
<rect x="1575.74" y="280.00" width="42.25" height="5.00" fill="#7e8080"/>
<rect x="1575.74" y="285.00" width="42.25" height="15.75" fill="#a8a8a8"/>
<rect x="1575.74" y="300.75" width="42.25" height="206.25" fill="#060808"/>
<line x1="1574.99" y1="162.40" x2="1618.74" y2="162.40" stroke="#0a0a0a" stroke-width="1.45"/>
<line x1="1574.99" y1="252.00" x2="1618.74" y2="252.00" stroke="#0a0a0a" stroke-width="1.45"/>
<line x1="1574.99" y1="272.50" x2="1618.74" y2="272.50" stroke="#0a0a0a" stroke-width="1.45"/>
<line x1="1574.99" y1="280.00" x2="1618.74" y2="280.00" stroke="#0a0a0a" stroke-width="1.45"/>
<line x1="1574.99" y1="285.00" x2="1618.74" y2="285.00" stroke="#0a0a0a" stroke-width="1.45"/>
<line x1="1574.99" y1="300.75" x2="1618.74" y2="300.75" stroke="#0a0a0a" stroke-width="1.45"/>
<rect x="1575.74" y="161.65" width="42.25" height="345.35" fill="none" stroke="#0a0a0a" stroke-width="1.5"/>
<line x1="1586.27" y1="152.00" x2="1607.46" y2="152.00" stroke="#0a0a0a" stroke-width="1.45"/>
<line x1="1596.87" y1="152.00" x2="1596.87" y2="161.25" stroke="#0a0a0a" stroke-width="1.45"/>
<line x1="1586.27" y1="160.20" x2="1607.46" y2="160.20" stroke="#0a0a0a" stroke-width="1.45"/>
<line x1="1596.87" y1="160.20" x2="1596.87" y2="161.25" stroke="#0a0a0a" stroke-width="1.45"/>
<line x1="1586.27" y1="243.00" x2="1607.46" y2="243.00" stroke="#0a0a0a" stroke-width="1.45"/>
<line x1="1596.87" y1="243.00" x2="1596.87" y2="252.00" stroke="#0a0a0a" stroke-width="1.45"/>
<line x1="1586.27" y1="269.25" x2="1607.46" y2="269.25" stroke="#0a0a0a" stroke-width="1.45"/>
<line x1="1596.87" y1="269.25" x2="1596.87" y2="272.50" stroke="#0a0a0a" stroke-width="1.45"/>
<line x1="1586.27" y1="274.50" x2="1607.46" y2="274.50" stroke="#0a0a0a" stroke-width="1.45"/>
<line x1="1596.87" y1="274.50" x2="1596.87" y2="280.00" stroke="#0a0a0a" stroke-width="1.45"/>
<line x1="1586.27" y1="280.50" x2="1607.46" y2="280.50" stroke="#0a0a0a" stroke-width="1.45"/>
<line x1="1596.87" y1="280.50" x2="1596.87" y2="300.75" stroke="#0a0a0a" stroke-width="1.45"/>
<rect x="1639.33" y="161.25" width="42.25" height="1.15" fill="#aeb0aa"/>
<rect x="1639.33" y="162.40" width="42.25" height="53.10" fill="#f37d78"/>
<rect x="1639.33" y="215.50" width="42.25" height="32.00" fill="#f9ef79"/>
<rect x="1639.33" y="247.50" width="42.25" height="5.50" fill="#74cdf3"/>
<rect x="1639.33" y="253.00" width="42.25" height="6.25" fill="#7e8080"/>
<rect x="1639.33" y="259.25" width="42.25" height="17.75" fill="#a8a8a8"/>
<rect x="1639.33" y="277.00" width="42.25" height="230.00" fill="#060808"/>
<line x1="1638.58" y1="162.40" x2="1682.33" y2="162.40" stroke="#0a0a0a" stroke-width="1.45"/>
<line x1="1638.58" y1="215.50" x2="1682.33" y2="215.50" stroke="#0a0a0a" stroke-width="1.45"/>
<line x1="1638.58" y1="247.50" x2="1682.33" y2="247.50" stroke="#0a0a0a" stroke-width="1.45"/>
<line x1="1638.58" y1="253.00" x2="1682.33" y2="253.00" stroke="#0a0a0a" stroke-width="1.45"/>
<line x1="1638.58" y1="259.25" x2="1682.33" y2="259.25" stroke="#0a0a0a" stroke-width="1.45"/>
<line x1="1638.58" y1="277.00" x2="1682.33" y2="277.00" stroke="#0a0a0a" stroke-width="1.45"/>
<rect x="1639.33" y="161.65" width="42.25" height="345.35" fill="none" stroke="#0a0a0a" stroke-width="1.5"/>
<line x1="1649.86" y1="138.00" x2="1671.06" y2="138.00" stroke="#0a0a0a" stroke-width="1.45"/>
<line x1="1660.46" y1="138.00" x2="1660.46" y2="161.25" stroke="#0a0a0a" stroke-width="1.45"/>
<line x1="1649.86" y1="160.20" x2="1671.06" y2="160.20" stroke="#0a0a0a" stroke-width="1.45"/>
<line x1="1660.46" y1="160.20" x2="1660.46" y2="161.25" stroke="#0a0a0a" stroke-width="1.45"/>
<line x1="1649.86" y1="198.75" x2="1671.06" y2="198.75" stroke="#0a0a0a" stroke-width="1.45"/>
<line x1="1660.46" y1="198.75" x2="1660.46" y2="215.50" stroke="#0a0a0a" stroke-width="1.45"/>
<line x1="1649.86" y1="229.50" x2="1671.06" y2="229.50" stroke="#0a0a0a" stroke-width="1.45"/>
<line x1="1660.46" y1="229.50" x2="1660.46" y2="247.50" stroke="#0a0a0a" stroke-width="1.45"/>
<line x1="1649.86" y1="243.25" x2="1671.06" y2="243.25" stroke="#0a0a0a" stroke-width="1.45"/>
<line x1="1660.46" y1="243.25" x2="1660.46" y2="253.00" stroke="#0a0a0a" stroke-width="1.45"/>
<line x1="1649.86" y1="248.75" x2="1671.06" y2="248.75" stroke="#0a0a0a" stroke-width="1.45"/>
<line x1="1660.46" y1="248.75" x2="1660.46" y2="259.25" stroke="#0a0a0a" stroke-width="1.45"/>
<line x1="1649.86" y1="257.00" x2="1671.06" y2="257.00" stroke="#0a0a0a" stroke-width="1.45"/>
<line x1="1660.46" y1="257.00" x2="1660.46" y2="277.00" stroke="#0a0a0a" stroke-width="1.45"/>
<rect x="1702.92" y="161.25" width="42.25" height="3.75" fill="#aeb0aa"/>
<rect x="1702.92" y="165.00" width="42.25" height="33.25" fill="#f37d78"/>
<rect x="1702.92" y="198.25" width="42.25" height="116.00" fill="#f9ef79"/>
<rect x="1702.92" y="314.25" width="42.25" height="30.25" fill="#74cdf3"/>
<rect x="1702.92" y="344.50" width="42.25" height="34.25" fill="#7e8080"/>
<rect x="1702.92" y="378.75" width="42.25" height="20.00" fill="#a8a8a8"/>
<rect x="1702.92" y="398.75" width="42.25" height="108.25" fill="#060808"/>
<line x1="1702.17" y1="165.00" x2="1745.92" y2="165.00" stroke="#0a0a0a" stroke-width="1.45"/>
<line x1="1702.17" y1="198.25" x2="1745.92" y2="198.25" stroke="#0a0a0a" stroke-width="1.45"/>
<line x1="1702.17" y1="314.25" x2="1745.92" y2="314.25" stroke="#0a0a0a" stroke-width="1.45"/>
<line x1="1702.17" y1="344.50" x2="1745.92" y2="344.50" stroke="#0a0a0a" stroke-width="1.45"/>
<line x1="1702.17" y1="378.75" x2="1745.92" y2="378.75" stroke="#0a0a0a" stroke-width="1.45"/>
<line x1="1702.17" y1="398.75" x2="1745.92" y2="398.75" stroke="#0a0a0a" stroke-width="1.45"/>
<rect x="1702.92" y="161.65" width="42.25" height="345.35" fill="none" stroke="#0a0a0a" stroke-width="1.5"/>
<line x1="1713.45" y1="160.60" x2="1734.64" y2="160.60" stroke="#0a0a0a" stroke-width="1.45"/>
<line x1="1724.05" y1="160.60" x2="1724.05" y2="165.00" stroke="#0a0a0a" stroke-width="1.45"/>
<line x1="1713.45" y1="190.00" x2="1734.64" y2="190.00" stroke="#0a0a0a" stroke-width="1.45"/>
<line x1="1724.05" y1="190.00" x2="1724.05" y2="198.25" stroke="#0a0a0a" stroke-width="1.45"/>
<line x1="1713.45" y1="310.00" x2="1734.64" y2="310.00" stroke="#0a0a0a" stroke-width="1.45"/>
<line x1="1724.05" y1="310.00" x2="1724.05" y2="314.25" stroke="#0a0a0a" stroke-width="1.45"/>
<line x1="1713.45" y1="341.25" x2="1734.64" y2="341.25" stroke="#0a0a0a" stroke-width="1.45"/>
<line x1="1724.05" y1="341.25" x2="1724.05" y2="344.50" stroke="#0a0a0a" stroke-width="1.45"/>
<line x1="1713.45" y1="375.00" x2="1734.64" y2="375.00" stroke="#0a0a0a" stroke-width="1.45"/>
<line x1="1724.05" y1="375.00" x2="1724.05" y2="378.75" stroke="#0a0a0a" stroke-width="1.45"/>
<line x1="1713.45" y1="392.00" x2="1734.64" y2="392.00" stroke="#0a0a0a" stroke-width="1.45"/>
<line x1="1724.05" y1="392.00" x2="1724.05" y2="398.75" stroke="#0a0a0a" stroke-width="1.45"/>
<rect x="1766.51" y="161.25" width="42.25" height="4.25" fill="#aeb0aa"/>
<rect x="1766.51" y="165.50" width="42.25" height="139.50" fill="#f37d78"/>
<rect x="1766.51" y="305.00" width="42.25" height="28.50" fill="#f9ef79"/>
<rect x="1766.51" y="333.50" width="42.25" height="14.25" fill="#74cdf3"/>
<rect x="1766.51" y="347.75" width="42.25" height="9.75" fill="#7e8080"/>
<rect x="1766.51" y="357.50" width="42.25" height="12.25" fill="#a8a8a8"/>
<rect x="1766.51" y="369.75" width="42.25" height="137.25" fill="#060808"/>
<line x1="1765.76" y1="165.50" x2="1809.51" y2="165.50" stroke="#0a0a0a" stroke-width="1.45"/>
<line x1="1765.76" y1="305.00" x2="1809.51" y2="305.00" stroke="#0a0a0a" stroke-width="1.45"/>
<line x1="1765.76" y1="333.50" x2="1809.51" y2="333.50" stroke="#0a0a0a" stroke-width="1.45"/>
<line x1="1765.76" y1="347.75" x2="1809.51" y2="347.75" stroke="#0a0a0a" stroke-width="1.45"/>
<line x1="1765.76" y1="357.50" x2="1809.51" y2="357.50" stroke="#0a0a0a" stroke-width="1.45"/>
<line x1="1765.76" y1="369.75" x2="1809.51" y2="369.75" stroke="#0a0a0a" stroke-width="1.45"/>
<rect x="1766.51" y="161.65" width="42.25" height="345.35" fill="none" stroke="#0a0a0a" stroke-width="1.5"/>
<line x1="1777.04" y1="141.25" x2="1798.24" y2="141.25" stroke="#0a0a0a" stroke-width="1.45"/>
<line x1="1787.64" y1="141.25" x2="1787.64" y2="165.50" stroke="#0a0a0a" stroke-width="1.45"/>
<line x1="1777.04" y1="300.00" x2="1798.24" y2="300.00" stroke="#0a0a0a" stroke-width="1.45"/>
<line x1="1787.64" y1="300.00" x2="1787.64" y2="305.00" stroke="#0a0a0a" stroke-width="1.45"/>
<line x1="1777.04" y1="345.75" x2="1798.24" y2="345.75" stroke="#0a0a0a" stroke-width="1.45"/>
<line x1="1787.64" y1="345.75" x2="1787.64" y2="347.75" stroke="#0a0a0a" stroke-width="1.45"/>
<line x1="1777.04" y1="352.50" x2="1798.24" y2="352.50" stroke="#0a0a0a" stroke-width="1.45"/>
<line x1="1787.64" y1="352.50" x2="1787.64" y2="357.50" stroke="#0a0a0a" stroke-width="1.45"/>
<line x1="1777.04" y1="358.00" x2="1798.24" y2="358.00" stroke="#0a0a0a" stroke-width="1.45"/>
<line x1="1787.64" y1="358.00" x2="1787.64" y2="369.75" stroke="#0a0a0a" stroke-width="1.45"/>
<rect x="1830.10" y="162.00" width="42.25" height="3.50" fill="#aeb0aa"/>
<rect x="1830.10" y="165.50" width="42.25" height="115.75" fill="#f37d78"/>
<rect x="1830.10" y="281.25" width="42.25" height="32.00" fill="#f9ef79"/>
<rect x="1830.10" y="313.25" width="42.25" height="11.50" fill="#74cdf3"/>
<rect x="1830.10" y="324.75" width="42.25" height="9.00" fill="#7e8080"/>
<rect x="1830.10" y="333.75" width="42.25" height="13.75" fill="#a8a8a8"/>
<rect x="1830.10" y="347.50" width="42.25" height="159.50" fill="#060808"/>
<line x1="1829.35" y1="165.50" x2="1873.10" y2="165.50" stroke="#0a0a0a" stroke-width="1.45"/>
<line x1="1829.35" y1="281.25" x2="1873.10" y2="281.25" stroke="#0a0a0a" stroke-width="1.45"/>
<line x1="1829.35" y1="313.25" x2="1873.10" y2="313.25" stroke="#0a0a0a" stroke-width="1.45"/>
<line x1="1829.35" y1="324.75" x2="1873.10" y2="324.75" stroke="#0a0a0a" stroke-width="1.45"/>
<line x1="1829.35" y1="333.75" x2="1873.10" y2="333.75" stroke="#0a0a0a" stroke-width="1.45"/>
<line x1="1829.35" y1="347.50" x2="1873.10" y2="347.50" stroke="#0a0a0a" stroke-width="1.45"/>
<rect x="1830.10" y="162.40" width="42.25" height="344.60" fill="none" stroke="#0a0a0a" stroke-width="1.5"/>
<line x1="1840.63" y1="163.00" x2="1861.83" y2="163.00" stroke="#0a0a0a" stroke-width="1.45"/>
<line x1="1851.23" y1="163.00" x2="1851.23" y2="165.50" stroke="#0a0a0a" stroke-width="1.45"/>
<line x1="1840.63" y1="273.25" x2="1861.83" y2="273.25" stroke="#0a0a0a" stroke-width="1.45"/>
<line x1="1851.23" y1="273.25" x2="1851.23" y2="281.25" stroke="#0a0a0a" stroke-width="1.45"/>
<line x1="1840.63" y1="311.25" x2="1861.83" y2="311.25" stroke="#0a0a0a" stroke-width="1.45"/>
<line x1="1851.23" y1="311.25" x2="1851.23" y2="313.25" stroke="#0a0a0a" stroke-width="1.45"/>
<line x1="1840.63" y1="322.50" x2="1861.83" y2="322.50" stroke="#0a0a0a" stroke-width="1.45"/>
<line x1="1851.23" y1="322.50" x2="1851.23" y2="324.75" stroke="#0a0a0a" stroke-width="1.45"/>
<line x1="1840.63" y1="330.00" x2="1861.83" y2="330.00" stroke="#0a0a0a" stroke-width="1.45"/>
<line x1="1851.23" y1="330.00" x2="1851.23" y2="333.75" stroke="#0a0a0a" stroke-width="1.45"/>
<line x1="1840.63" y1="336.75" x2="1861.83" y2="336.75" stroke="#0a0a0a" stroke-width="1.45"/>
<line x1="1851.23" y1="336.75" x2="1851.23" y2="347.50" stroke="#0a0a0a" stroke-width="1.45"/>
<rect x="1893.69" y="162.50" width="42.25" height="3.75" fill="#aeb0aa"/>
<rect x="1893.69" y="166.25" width="42.25" height="18.25" fill="#f37d78"/>
<rect x="1893.69" y="184.50" width="42.25" height="116.00" fill="#f9ef79"/>
<rect x="1893.69" y="300.50" width="42.25" height="21.50" fill="#74cdf3"/>
<rect x="1893.69" y="322.00" width="42.25" height="54.75" fill="#7e8080"/>
<rect x="1893.69" y="376.75" width="42.25" height="37.00" fill="#a8a8a8"/>
<rect x="1893.69" y="413.75" width="42.25" height="93.25" fill="#060808"/>
<line x1="1892.94" y1="166.25" x2="1936.69" y2="166.25" stroke="#0a0a0a" stroke-width="1.45"/>
<line x1="1892.94" y1="184.50" x2="1936.69" y2="184.50" stroke="#0a0a0a" stroke-width="1.45"/>
<line x1="1892.94" y1="300.50" x2="1936.69" y2="300.50" stroke="#0a0a0a" stroke-width="1.45"/>
<line x1="1892.94" y1="322.00" x2="1936.69" y2="322.00" stroke="#0a0a0a" stroke-width="1.45"/>
<line x1="1892.94" y1="376.75" x2="1936.69" y2="376.75" stroke="#0a0a0a" stroke-width="1.45"/>
<line x1="1892.94" y1="413.75" x2="1936.69" y2="413.75" stroke="#0a0a0a" stroke-width="1.45"/>
<rect x="1893.69" y="162.90" width="42.25" height="344.10" fill="none" stroke="#0a0a0a" stroke-width="1.5"/>
<line x1="1904.22" y1="163.30" x2="1925.41" y2="163.30" stroke="#0a0a0a" stroke-width="1.45"/>
<line x1="1914.82" y1="163.30" x2="1914.82" y2="166.25" stroke="#0a0a0a" stroke-width="1.45"/>
<line x1="1904.22" y1="182.00" x2="1925.41" y2="182.00" stroke="#0a0a0a" stroke-width="1.45"/>
<line x1="1914.82" y1="182.00" x2="1914.82" y2="184.50" stroke="#0a0a0a" stroke-width="1.45"/>
<line x1="1904.22" y1="298.75" x2="1925.41" y2="298.75" stroke="#0a0a0a" stroke-width="1.45"/>
<line x1="1914.82" y1="298.75" x2="1914.82" y2="300.50" stroke="#0a0a0a" stroke-width="1.45"/>
<line x1="1904.22" y1="320.75" x2="1925.41" y2="320.75" stroke="#0a0a0a" stroke-width="1.45"/>
<line x1="1914.82" y1="320.75" x2="1914.82" y2="322.00" stroke="#0a0a0a" stroke-width="1.45"/>
<line x1="1904.22" y1="410.75" x2="1925.41" y2="410.75" stroke="#0a0a0a" stroke-width="1.45"/>
<line x1="1914.82" y1="410.75" x2="1914.82" y2="413.75" stroke="#0a0a0a" stroke-width="1.45"/>
<rect x="1957.28" y="162.00" width="42.25" height="3.50" fill="#aeb0aa"/>
<rect x="1957.28" y="165.50" width="42.25" height="53.75" fill="#f37d78"/>
<rect x="1957.28" y="219.25" width="42.25" height="110.75" fill="#f9ef79"/>
<rect x="1957.28" y="330.00" width="42.25" height="38.00" fill="#74cdf3"/>
<rect x="1957.28" y="368.00" width="42.25" height="26.50" fill="#7e8080"/>
<rect x="1957.28" y="394.50" width="42.25" height="13.75" fill="#a8a8a8"/>
<rect x="1957.28" y="408.25" width="42.25" height="98.75" fill="#060808"/>
<line x1="1956.53" y1="165.50" x2="2000.28" y2="165.50" stroke="#0a0a0a" stroke-width="1.45"/>
<line x1="1956.53" y1="219.25" x2="2000.28" y2="219.25" stroke="#0a0a0a" stroke-width="1.45"/>
<line x1="1956.53" y1="330.00" x2="2000.28" y2="330.00" stroke="#0a0a0a" stroke-width="1.45"/>
<line x1="1956.53" y1="368.00" x2="2000.28" y2="368.00" stroke="#0a0a0a" stroke-width="1.45"/>
<line x1="1956.53" y1="394.50" x2="2000.28" y2="394.50" stroke="#0a0a0a" stroke-width="1.45"/>
<line x1="1956.53" y1="408.25" x2="2000.28" y2="408.25" stroke="#0a0a0a" stroke-width="1.45"/>
<rect x="1957.28" y="162.40" width="42.25" height="344.60" fill="none" stroke="#0a0a0a" stroke-width="1.5"/>
<line x1="1967.81" y1="161.60" x2="1989.01" y2="161.60" stroke="#0a0a0a" stroke-width="1.45"/>
<line x1="1978.41" y1="161.60" x2="1978.41" y2="165.50" stroke="#0a0a0a" stroke-width="1.45"/>
<line x1="1967.81" y1="210.00" x2="1989.01" y2="210.00" stroke="#0a0a0a" stroke-width="1.45"/>
<line x1="1978.41" y1="210.00" x2="1978.41" y2="219.25" stroke="#0a0a0a" stroke-width="1.45"/>
<line x1="1967.81" y1="326.75" x2="1989.01" y2="326.75" stroke="#0a0a0a" stroke-width="1.45"/>
<line x1="1978.41" y1="326.75" x2="1978.41" y2="330.00" stroke="#0a0a0a" stroke-width="1.45"/>
<line x1="1967.81" y1="366.25" x2="1989.01" y2="366.25" stroke="#0a0a0a" stroke-width="1.45"/>
<line x1="1978.41" y1="366.25" x2="1978.41" y2="368.00" stroke="#0a0a0a" stroke-width="1.45"/>
<line x1="1967.81" y1="404.50" x2="1989.01" y2="404.50" stroke="#0a0a0a" stroke-width="1.45"/>
<line x1="1978.41" y1="404.50" x2="1978.41" y2="408.25" stroke="#0a0a0a" stroke-width="1.45"/>
<rect x="2020.87" y="164.50" width="42.25" height="6.00" fill="#aeb0aa"/>
<rect x="2020.87" y="170.50" width="42.25" height="63.25" fill="#f37d78"/>
<rect x="2020.87" y="233.75" width="42.25" height="110.50" fill="#f9ef79"/>
<rect x="2020.87" y="344.25" width="42.25" height="20.25" fill="#74cdf3"/>
<rect x="2020.87" y="364.50" width="42.25" height="10.50" fill="#7e8080"/>
<rect x="2020.87" y="375.00" width="42.25" height="9.25" fill="#a8a8a8"/>
<rect x="2020.87" y="384.25" width="42.25" height="122.75" fill="#060808"/>
<line x1="2020.12" y1="170.50" x2="2063.87" y2="170.50" stroke="#0a0a0a" stroke-width="1.45"/>
<line x1="2020.12" y1="233.75" x2="2063.87" y2="233.75" stroke="#0a0a0a" stroke-width="1.45"/>
<line x1="2020.12" y1="344.25" x2="2063.87" y2="344.25" stroke="#0a0a0a" stroke-width="1.45"/>
<line x1="2020.12" y1="364.50" x2="2063.87" y2="364.50" stroke="#0a0a0a" stroke-width="1.45"/>
<line x1="2020.12" y1="375.00" x2="2063.87" y2="375.00" stroke="#0a0a0a" stroke-width="1.45"/>
<line x1="2020.12" y1="384.25" x2="2063.87" y2="384.25" stroke="#0a0a0a" stroke-width="1.45"/>
<rect x="2020.87" y="164.90" width="42.25" height="342.10" fill="none" stroke="#0a0a0a" stroke-width="1.5"/>
<line x1="2031.40" y1="161.75" x2="2052.60" y2="161.75" stroke="#0a0a0a" stroke-width="1.45"/>
<line x1="2042.00" y1="161.75" x2="2042.00" y2="170.50" stroke="#0a0a0a" stroke-width="1.45"/>
<line x1="2031.40" y1="162.60" x2="2052.60" y2="162.60" stroke="#0a0a0a" stroke-width="1.45"/>
<line x1="2042.00" y1="162.60" x2="2042.00" y2="164.50" stroke="#0a0a0a" stroke-width="1.45"/>
<line x1="2031.40" y1="224.25" x2="2052.60" y2="224.25" stroke="#0a0a0a" stroke-width="1.45"/>
<line x1="2042.00" y1="224.25" x2="2042.00" y2="233.75" stroke="#0a0a0a" stroke-width="1.45"/>
<line x1="2031.40" y1="373.00" x2="2052.60" y2="373.00" stroke="#0a0a0a" stroke-width="1.45"/>
<line x1="2042.00" y1="373.00" x2="2042.00" y2="384.25" stroke="#0a0a0a" stroke-width="1.45"/>
<text x="1752.18" y="121.40" font-size="31" textLength="91.20" lengthAdjust="spacing">Citrate</text>
<text x="660.52" y="551.70" font-size="29" textLength="112.23" lengthAdjust="spacing">Piericidin:</text>
<text x="667.07" y="588.30" font-size="29" textLength="89.62" lengthAdjust="spacing">0.5% O</text>
<text x="754.12" y="597.50" font-size="15.5" textLength="10.76" lengthAdjust="spacingAndGlyphs">2</text>
<text x="763.75" y="588.30" font-size="29">:</text>
<text x="801.30" y="551.50" font-size="30" text-anchor="middle">-</text>
<text x="870.00" y="553.48" font-size="30" text-anchor="middle">+</text>
<text x="931.80" y="551.50" font-size="30" text-anchor="middle">-</text>
<text x="996.30" y="551.50" font-size="30" text-anchor="middle">-</text>
<text x="1058.30" y="553.48" font-size="30" text-anchor="middle">+</text>
<text x="1124.40" y="551.50" font-size="30" text-anchor="middle">-</text>
<text x="1189.40" y="551.50" font-size="30" text-anchor="middle">-</text>
<text x="1253.75" y="553.48" font-size="30" text-anchor="middle">+</text>
<text x="1317.50" y="551.50" font-size="30" text-anchor="middle">-</text>
<text x="801.30" y="588.90" font-size="30" text-anchor="middle">-</text>
<text x="869.50" y="588.90" font-size="30" text-anchor="middle">-</text>
<text x="932.00" y="590.88" font-size="30" text-anchor="middle">+</text>
<text x="996.30" y="588.90" font-size="30" text-anchor="middle">-</text>
<text x="1058.00" y="588.90" font-size="30" text-anchor="middle">-</text>
<text x="1125.00" y="590.88" font-size="30" text-anchor="middle">+</text>
<text x="1189.30" y="588.90" font-size="30" text-anchor="middle">-</text>
<text x="1253.75" y="588.90" font-size="30" text-anchor="middle">-</text>
<text x="1317.50" y="590.88" font-size="30" text-anchor="middle">+</text>
<line x1="787.00" y1="605.40" x2="953.00" y2="605.40" stroke="#0a0a0a" stroke-width="1.5"/>
<line x1="979.00" y1="605.40" x2="1145.00" y2="605.40" stroke="#0a0a0a" stroke-width="1.5"/>
<line x1="1173.25" y1="605.40" x2="1340.00" y2="605.40" stroke="#0a0a0a" stroke-width="1.5"/>
<text x="800.52" y="640.90" font-size="29" textLength="120.35" lengthAdjust="spacing">HY15549</text>
<text x="996.87" y="640.90" font-size="29" textLength="120.35" lengthAdjust="spacing">HY15549</text>
<text x="1192.02" y="640.90" font-size="29" textLength="120.35" lengthAdjust="spacing">HY15549</text>
<text x="779.33" y="675.70" font-size="29" textLength="171.65" lengthAdjust="spacing">+ empty vector</text>
<text x="978.58" y="675.70" font-size="29" textLength="165.77" lengthAdjust="spacing">+ cyto-LbNOX</text>
<text x="1172.83" y="675.70" font-size="29" textLength="167.52" lengthAdjust="spacing">+ mito-LbNOX</text>
<text x="1388.22" y="551.70" font-size="29" textLength="112.23" lengthAdjust="spacing">Piericidin:</text>
<text x="1394.77" y="588.30" font-size="29" textLength="89.62" lengthAdjust="spacing">0.5% O</text>
<text x="1481.82" y="597.50" font-size="15.5" textLength="10.76" lengthAdjust="spacingAndGlyphs">2</text>
<text x="1491.45" y="588.30" font-size="29">:</text>
<text x="1529.25" y="551.50" font-size="30" text-anchor="middle">-</text>
<text x="1598.30" y="553.48" font-size="30" text-anchor="middle">+</text>
<text x="1659.50" y="551.50" font-size="30" text-anchor="middle">-</text>
<text x="1724.40" y="551.50" font-size="30" text-anchor="middle">-</text>
<text x="1786.25" y="553.48" font-size="30" text-anchor="middle">+</text>
<text x="1852.50" y="551.50" font-size="30" text-anchor="middle">-</text>
<text x="1917.50" y="551.50" font-size="30" text-anchor="middle">-</text>
<text x="1981.75" y="553.48" font-size="30" text-anchor="middle">+</text>
<text x="2045.50" y="551.50" font-size="30" text-anchor="middle">-</text>
<text x="1529.25" y="588.90" font-size="30" text-anchor="middle">-</text>
<text x="1597.80" y="588.90" font-size="30" text-anchor="middle">-</text>
<text x="1660.00" y="590.88" font-size="30" text-anchor="middle">+</text>
<text x="1724.40" y="588.90" font-size="30" text-anchor="middle">-</text>
<text x="1786.00" y="588.90" font-size="30" text-anchor="middle">-</text>
<text x="1853.00" y="590.88" font-size="30" text-anchor="middle">+</text>
<text x="1917.50" y="588.90" font-size="30" text-anchor="middle">-</text>
<text x="1981.75" y="588.90" font-size="30" text-anchor="middle">-</text>
<text x="2045.50" y="590.88" font-size="30" text-anchor="middle">+</text>
<line x1="1515.00" y1="605.40" x2="1680.75" y2="605.40" stroke="#0a0a0a" stroke-width="1.5"/>
<line x1="1706.50" y1="605.40" x2="1872.50" y2="605.40" stroke="#0a0a0a" stroke-width="1.5"/>
<line x1="1900.75" y1="605.40" x2="2067.50" y2="605.40" stroke="#0a0a0a" stroke-width="1.5"/>
<text x="1531.37" y="640.90" font-size="29" textLength="120.35" lengthAdjust="spacing">HY15549</text>
<text x="1728.12" y="640.90" font-size="29" textLength="120.35" lengthAdjust="spacing">HY15549</text>
<text x="1922.62" y="640.90" font-size="29" textLength="120.35" lengthAdjust="spacing">HY15549</text>
<text x="1509.33" y="675.70" font-size="29" textLength="171.65" lengthAdjust="spacing">+ empty vector</text>
<text x="1709.83" y="675.70" font-size="29" textLength="165.02" lengthAdjust="spacing">+ cyto-LbNOX</text>
<text x="1903.58" y="675.70" font-size="29" textLength="167.02" lengthAdjust="spacing">+ mito-LbNOX</text>
<text x="-2.69" y="833.80" font-size="48.5" font-weight="bold" fill="#231f20" stroke="#231f20">c</text>
<text x="349.06" y="852.75" font-size="29.8" textLength="237.62" lengthAdjust="spacing">MIA PaCa-2 cells</text>
<rect x="230.90" y="868.20" width="22.60" height="23.60" fill="#bdbdc1" stroke="#808185" stroke-width="1.3"/>
<text x="262.37" y="889.90" font-size="29.5" textLength="80.62" lengthAdjust="spacing">Vector</text>
<rect x="357.90" y="868.20" width="22.40" height="23.60" fill="#3b3f9d" stroke="#3b3f9d" stroke-width="1.3"/>
<text x="388.15" y="889.90" font-size="29.5" textLength="156.87" lengthAdjust="spacing">cyto-LbNOX</text>
<rect x="555.90" y="868.20" width="22.20" height="23.60" fill="#faeb33" stroke="#9a923c" stroke-width="1.3"/>
<text x="587.29" y="889.90" font-size="29.5" textLength="149.58" lengthAdjust="spacing">mito-lbNOX</text>
<line x1="201.50" y1="948.00" x2="201.50" y2="1297.05" stroke="#0a0a0a" stroke-width="2.9"/>
<line x1="184.50" y1="1295.75" x2="760.00" y2="1295.75" stroke="#0a0a0a" stroke-width="2.9"/>
<line x1="184.50" y1="1027.60" x2="201.50" y2="1027.60" stroke="#0a0a0a" stroke-width="2.7"/>
<line x1="184.50" y1="1162.00" x2="201.50" y2="1162.00" stroke="#0a0a0a" stroke-width="2.7"/>
<text x="143.44" y="1033.20" font-size="28.4" textLength="38.92" lengthAdjust="spacing">1.0</text>
<text x="143.39" y="1170.40" font-size="28.4" textLength="38.50" lengthAdjust="spacing">0.5</text>
<text x="143.39" y="1304.00" font-size="28.4" textLength="38.82" lengthAdjust="spacing">0.0</text>
<line x1="287.50" y1="1295.75" x2="287.50" y2="1312.00" stroke="#0a0a0a" stroke-width="2.7"/>
<line x1="479.40" y1="1295.75" x2="479.40" y2="1312.00" stroke="#0a0a0a" stroke-width="2.7"/>
<line x1="671.25" y1="1295.75" x2="671.25" y2="1312.00" stroke="#0a0a0a" stroke-width="2.7"/>
<rect x="218.80" y="1028.30" width="34.15" height="267.45" fill="#bfbfbf" stroke="#0a0a0a" stroke-width="1.65"/>
<rect x="271.30" y="1028.30" width="34.15" height="267.45" fill="#3f56a6" stroke="#0a0a0a" stroke-width="1.65"/>
<rect x="323.80" y="1028.30" width="34.15" height="267.45" fill="#f9ef79" stroke="#0a0a0a" stroke-width="1.65"/>
<rect x="410.30" y="1286.55" width="34.15" height="9.20" fill="#bfbfbf" stroke="#0a0a0a" stroke-width="1.65"/>
<rect x="463.20" y="1140.80" width="34.15" height="154.95" fill="#3f56a6" stroke="#0a0a0a" stroke-width="1.65"/>
<rect x="515.30" y="1210.30" width="34.15" height="85.45" fill="#f9ef79" stroke="#0a0a0a" stroke-width="1.65"/>
<rect x="602.05" y="1259.55" width="34.15" height="36.20" fill="#bfbfbf" stroke="#0a0a0a" stroke-width="1.65"/>
<rect x="655.05" y="1281.55" width="34.15" height="14.20" fill="#3f56a6" stroke="#0a0a0a" stroke-width="1.65"/>
<rect x="707.05" y="1204.80" width="34.15" height="90.95" fill="#f9ef79" stroke="#0a0a0a" stroke-width="1.65"/>
<line x1="184.50" y1="1295.75" x2="760.00" y2="1295.75" stroke="#0a0a0a" stroke-width="2.9"/>
<circle cx="226.75" cy="1021.25" r="5.4" fill="#e9e9e9" stroke="#0a0a0a" stroke-width="1.85"/>
<circle cx="243.75" cy="1030.00" r="5.4" fill="#e9e9e9" stroke="#0a0a0a" stroke-width="1.85"/>
<circle cx="235.50" cy="1033.75" r="5.4" fill="#e9e9e9" stroke="#0a0a0a" stroke-width="1.85"/>
<line x1="227.07" y1="1021.75" x2="244.68" y2="1021.75" stroke="#0a0a0a" stroke-width="1.45"/>
<line x1="235.88" y1="1021.75" x2="235.88" y2="1028.00" stroke="#0a0a0a" stroke-width="1.45"/>
<circle cx="288.25" cy="1004.50" r="5.4" fill="#e9e9e9" stroke="#0a0a0a" stroke-width="1.85"/>
<circle cx="297.00" cy="1034.25" r="5.4" fill="#e9e9e9" stroke="#0a0a0a" stroke-width="1.85"/>
<circle cx="279.25" cy="1046.25" r="5.4" fill="#e9e9e9" stroke="#0a0a0a" stroke-width="1.85"/>
<line x1="279.57" y1="1007.00" x2="297.18" y2="1007.00" stroke="#0a0a0a" stroke-width="1.45"/>
<line x1="288.38" y1="1007.00" x2="288.38" y2="1028.00" stroke="#0a0a0a" stroke-width="1.45"/>
<circle cx="331.75" cy="1019.25" r="5.4" fill="#e9e9e9" stroke="#0a0a0a" stroke-width="1.85"/>
<circle cx="349.25" cy="1020.00" r="5.4" fill="#e9e9e9" stroke="#0a0a0a" stroke-width="1.85"/>
<circle cx="340.50" cy="1046.25" r="5.4" fill="#e9e9e9" stroke="#0a0a0a" stroke-width="1.85"/>
<line x1="332.07" y1="1013.75" x2="349.68" y2="1013.75" stroke="#0a0a0a" stroke-width="1.45"/>
<line x1="340.88" y1="1013.75" x2="340.88" y2="1028.00" stroke="#0a0a0a" stroke-width="1.45"/>
<circle cx="427.50" cy="1272.50" r="5.4" fill="#e9e9e9" stroke="#0a0a0a" stroke-width="1.85"/>
<circle cx="418.25" cy="1293.25" r="5.4" fill="#e9e9e9" stroke="#0a0a0a" stroke-width="1.85"/>
<circle cx="435.75" cy="1293.25" r="5.4" fill="#e9e9e9" stroke="#0a0a0a" stroke-width="1.85"/>
<line x1="418.57" y1="1274.25" x2="436.18" y2="1274.25" stroke="#0a0a0a" stroke-width="1.45"/>
<line x1="427.38" y1="1274.25" x2="427.38" y2="1286.25" stroke="#0a0a0a" stroke-width="1.45"/>
<circle cx="480.00" cy="1116.25" r="5.4" fill="#e9e9e9" stroke="#0a0a0a" stroke-width="1.85"/>
<circle cx="488.75" cy="1147.50" r="5.4" fill="#e9e9e9" stroke="#0a0a0a" stroke-width="1.85"/>
<circle cx="471.25" cy="1157.00" r="5.4" fill="#e9e9e9" stroke="#0a0a0a" stroke-width="1.85"/>
<line x1="471.47" y1="1119.25" x2="489.07" y2="1119.25" stroke="#0a0a0a" stroke-width="1.45"/>
<line x1="480.27" y1="1119.25" x2="480.27" y2="1140.50" stroke="#0a0a0a" stroke-width="1.45"/>
<circle cx="523.25" cy="1201.25" r="5.4" fill="#e9e9e9" stroke="#0a0a0a" stroke-width="1.85"/>
<circle cx="540.75" cy="1205.00" r="5.4" fill="#e9e9e9" stroke="#0a0a0a" stroke-width="1.85"/>
<circle cx="532.00" cy="1223.75" r="5.4" fill="#e9e9e9" stroke="#0a0a0a" stroke-width="1.85"/>
<line x1="523.58" y1="1197.50" x2="541.17" y2="1197.50" stroke="#0a0a0a" stroke-width="1.45"/>
<line x1="532.38" y1="1197.50" x2="532.38" y2="1210.00" stroke="#0a0a0a" stroke-width="1.45"/>
<circle cx="610.00" cy="1258.75" r="5.4" fill="#e9e9e9" stroke="#0a0a0a" stroke-width="1.85"/>
<circle cx="618.75" cy="1259.25" r="5.4" fill="#e9e9e9" stroke="#0a0a0a" stroke-width="1.85"/>
<circle cx="627.50" cy="1259.25" r="5.4" fill="#e9e9e9" stroke="#0a0a0a" stroke-width="1.85"/>
<line x1="610.33" y1="1258.60" x2="627.92" y2="1258.60" stroke="#0a0a0a" stroke-width="1.45"/>
<line x1="619.12" y1="1258.60" x2="619.12" y2="1259.25" stroke="#0a0a0a" stroke-width="1.45"/>
<circle cx="663.00" cy="1279.25" r="5.4" fill="#e9e9e9" stroke="#0a0a0a" stroke-width="1.85"/>
<circle cx="680.50" cy="1280.50" r="5.4" fill="#e9e9e9" stroke="#0a0a0a" stroke-width="1.85"/>
<circle cx="671.75" cy="1283.75" r="5.4" fill="#e9e9e9" stroke="#0a0a0a" stroke-width="1.85"/>
<line x1="663.33" y1="1279.00" x2="680.92" y2="1279.00" stroke="#0a0a0a" stroke-width="1.45"/>
<line x1="672.12" y1="1279.00" x2="672.12" y2="1281.25" stroke="#0a0a0a" stroke-width="1.45"/>
<circle cx="715.00" cy="1198.25" r="5.4" fill="#e9e9e9" stroke="#0a0a0a" stroke-width="1.85"/>
<circle cx="732.50" cy="1201.25" r="5.4" fill="#e9e9e9" stroke="#0a0a0a" stroke-width="1.85"/>
<circle cx="723.75" cy="1213.75" r="5.4" fill="#e9e9e9" stroke="#0a0a0a" stroke-width="1.85"/>
<line x1="715.33" y1="1199.50" x2="732.92" y2="1199.50" stroke="#0a0a0a" stroke-width="1.45"/>
<line x1="724.12" y1="1199.50" x2="724.12" y2="1204.50" stroke="#0a0a0a" stroke-width="1.45"/>
<text x="411.35" y="1041.00" font-size="29.3" textLength="129.13" lengthAdjust="spacing">P = 0.0015</text>
<line x1="425.50" y1="1050.75" x2="540.50" y2="1050.75" stroke="#0a0a0a" stroke-width="1.3"/>
<text x="403.35" y="1096.00" font-size="29.3" textLength="128.38" lengthAdjust="spacing">P = 0.0005</text>
<line x1="425.00" y1="1103.25" x2="488.75" y2="1103.25" stroke="#0a0a0a" stroke-width="1.3"/>
<text x="603.10" y="1149.00" font-size="29.3" textLength="140.55" lengthAdjust="spacing">P = 9.3 x 10</text>
<text x="743.04" y="1138.75" font-size="16" textLength="12.63" lengthAdjust="spacing">-5</text>
<line x1="615.00" y1="1161.25" x2="730.75" y2="1161.25" stroke="#0a0a0a" stroke-width="1.3"/>
<text x="570.10" y="1224.00" font-size="29.3" textLength="128.69" lengthAdjust="spacing">P = 0.0003</text>
<line x1="615.00" y1="1236.25" x2="674.50" y2="1236.25" stroke="#0a0a0a" stroke-width="1.3"/>
<text x="92.92" y="1334.80" font-size="29" textLength="112.23" lengthAdjust="spacing">Piericidin:</text>
<text x="99.17" y="1370.20" font-size="29" textLength="89.62" lengthAdjust="spacing">0.5% O</text>
<text x="186.22" y="1379.40" font-size="15.5" textLength="10.76" lengthAdjust="spacingAndGlyphs">2</text>
<text x="195.85" y="1370.20" font-size="29">:</text>
<text x="286.90" y="1335.40" font-size="30" text-anchor="middle">-</text>
<text x="286.90" y="1373.90" font-size="30" text-anchor="middle">-</text>
<text x="479.40" y="1337.38" font-size="30" text-anchor="middle">+</text>
<text x="479.40" y="1373.90" font-size="30" text-anchor="middle">-</text>
<text x="670.30" y="1335.40" font-size="30" text-anchor="middle">-</text>
<text x="670.30" y="1375.88" font-size="30" text-anchor="middle">+</text>
<text x="94.75" y="1301.15" font-size="29.3" textLength="427.38" lengthAdjust="spacing" transform="rotate(-90 94.75 1301.15)">Relative cell number compared to</text>
<text x="129.30" y="1301.90" font-size="29.3" textLength="464.55" lengthAdjust="spacing" transform="rotate(-90 129.30 1301.90)">untreated control cells under 21% O</text>
<text x="138.75" y="838.38" font-size="15.5" textLength="10.36" lengthAdjust="spacingAndGlyphs" transform="rotate(-90 138.75 838.38)">2</text>
<text x="801.76" y="833.80" font-size="48.5" font-weight="bold" fill="#231f20" stroke="#231f20">d</text>
<rect x="984.40" y="828.60" width="40.80" height="27.80" fill="#bdbec0" stroke="#6d6e71" stroke-width="1.3"/>
<rect x="984.40" y="874.90" width="40.80" height="27.60" fill="#f47c79" stroke="#7a2a2a" stroke-width="1.3"/>
<rect x="984.40" y="919.90" width="40.80" height="27.60" fill="#3f57a6" stroke="#32458a" stroke-width="1.3"/>
<text x="1033.83" y="851.00" font-size="29.5" textLength="108.89" lengthAdjust="spacing">Parental</text>
<text x="1032.30" y="897.00" font-size="29.5" textLength="78.20" lengthAdjust="spacing" font-style="italic">Got2_</text>
<text x="1108.08" y="897.00" font-size="29.5" textLength="242.91" lengthAdjust="spacing">KO + Empty Vector</text>
<text x="1032.30" y="943.20" font-size="29.5" textLength="78.20" lengthAdjust="spacing" font-style="italic">Got2_</text>
<text x="1108.08" y="943.20" font-size="29.5" textLength="67.12" lengthAdjust="spacing">KO +</text>
<text x="1183.55" y="943.20" font-size="29.5" textLength="76.89" lengthAdjust="spacing" font-style="italic">GOT2</text>
<text x="1266.25" y="943.20" font-size="29.5" textLength="75.06" lengthAdjust="spacing">cDNA</text>
<line x1="989.00" y1="979.30" x2="989.00" y2="1300.05" stroke="#0a0a0a" stroke-width="2.9"/>
<line x1="972.50" y1="1298.75" x2="1336.25" y2="1298.75" stroke="#0a0a0a" stroke-width="2.9"/>
<line x1="972.50" y1="980.50" x2="989.00" y2="980.50" stroke="#0a0a0a" stroke-width="2.7"/>
<line x1="972.50" y1="1139.50" x2="989.00" y2="1139.50" stroke="#0a0a0a" stroke-width="2.7"/>
<text x="915.14" y="988.50" font-size="28.4" textLength="55.47" lengthAdjust="spacing">0.50</text>
<text x="915.14" y="1147.30" font-size="28.4" textLength="56.55" lengthAdjust="spacing">0.25</text>
<text x="915.14" y="1307.00" font-size="28.4" textLength="56.72" lengthAdjust="spacing">0.00</text>
<line x1="1070.50" y1="1298.75" x2="1070.50" y2="1314.50" stroke="#0a0a0a" stroke-width="2.7"/>
<line x1="1252.50" y1="1298.75" x2="1252.50" y2="1314.50" stroke="#0a0a0a" stroke-width="2.7"/>
<rect x="1005.20" y="1059.55" width="32.40" height="239.20" fill="#bfc0c2" stroke="#0a0a0a" stroke-width="1.65"/>
<rect x="1054.80" y="1071.55" width="32.40" height="227.20" fill="#f37f79" stroke="#0a0a0a" stroke-width="1.65"/>
<rect x="1104.70" y="1054.05" width="32.40" height="244.70" fill="#3f57a6" stroke="#0a0a0a" stroke-width="1.65"/>
<rect x="1187.05" y="1188.30" width="32.40" height="110.45" fill="#bfc0c2" stroke="#0a0a0a" stroke-width="1.65"/>
<rect x="1236.30" y="1236.05" width="32.40" height="62.70" fill="#f37f79" stroke="#0a0a0a" stroke-width="1.65"/>
<rect x="1286.30" y="1186.80" width="32.40" height="111.95" fill="#3f57a6" stroke="#0a0a0a" stroke-width="1.65"/>
<line x1="972.50" y1="1298.75" x2="1336.25" y2="1298.75" stroke="#0a0a0a" stroke-width="2.9"/>
<circle cx="1013.00" cy="1028.75" r="5.4" fill="#e9e9e9" stroke="#0a0a0a" stroke-width="1.85"/>
<circle cx="1030.00" cy="1035.00" r="5.4" fill="#e9e9e9" stroke="#0a0a0a" stroke-width="1.85"/>
<circle cx="1021.50" cy="1113.25" r="5.4" fill="#e9e9e9" stroke="#0a0a0a" stroke-width="1.85"/>
<line x1="1012.60" y1="1012.00" x2="1030.20" y2="1012.00" stroke="#0a0a0a" stroke-width="1.45"/>
<line x1="1021.40" y1="1012.00" x2="1021.40" y2="1059.25" stroke="#0a0a0a" stroke-width="1.45"/>
<circle cx="1071.25" cy="1039.50" r="5.4" fill="#e9e9e9" stroke="#0a0a0a" stroke-width="1.85"/>
<circle cx="1079.50" cy="1081.25" r="5.4" fill="#e9e9e9" stroke="#0a0a0a" stroke-width="1.85"/>
<circle cx="1062.50" cy="1093.00" r="5.4" fill="#e9e9e9" stroke="#0a0a0a" stroke-width="1.85"/>
<line x1="1062.20" y1="1043.75" x2="1079.80" y2="1043.75" stroke="#0a0a0a" stroke-width="1.45"/>
<line x1="1071.00" y1="1043.75" x2="1071.00" y2="1071.25" stroke="#0a0a0a" stroke-width="1.45"/>
<circle cx="1112.50" cy="1040.75" r="5.4" fill="#e9e9e9" stroke="#0a0a0a" stroke-width="1.85"/>
<circle cx="1129.25" cy="1045.50" r="5.4" fill="#e9e9e9" stroke="#0a0a0a" stroke-width="1.85"/>
<circle cx="1120.75" cy="1075.75" r="5.4" fill="#e9e9e9" stroke="#0a0a0a" stroke-width="1.85"/>
<line x1="1112.10" y1="1034.50" x2="1129.70" y2="1034.50" stroke="#0a0a0a" stroke-width="1.45"/>
<line x1="1120.90" y1="1034.50" x2="1120.90" y2="1053.75" stroke="#0a0a0a" stroke-width="1.45"/>
<circle cx="1194.50" cy="1179.50" r="5.4" fill="#e9e9e9" stroke="#0a0a0a" stroke-width="1.85"/>
<circle cx="1211.25" cy="1181.25" r="5.4" fill="#e9e9e9" stroke="#0a0a0a" stroke-width="1.85"/>
<circle cx="1203.00" cy="1203.75" r="5.4" fill="#e9e9e9" stroke="#0a0a0a" stroke-width="1.85"/>
<line x1="1194.45" y1="1175.00" x2="1212.05" y2="1175.00" stroke="#0a0a0a" stroke-width="1.45"/>
<line x1="1203.25" y1="1175.00" x2="1203.25" y2="1188.00" stroke="#0a0a0a" stroke-width="1.45"/>
<circle cx="1245.00" cy="1225.50" r="5.4" fill="#e9e9e9" stroke="#0a0a0a" stroke-width="1.85"/>
<circle cx="1260.75" cy="1239.50" r="5.4" fill="#e9e9e9" stroke="#0a0a0a" stroke-width="1.85"/>
<circle cx="1253.00" cy="1242.50" r="5.4" fill="#e9e9e9" stroke="#0a0a0a" stroke-width="1.85"/>
<line x1="1243.70" y1="1227.00" x2="1261.30" y2="1227.00" stroke="#0a0a0a" stroke-width="1.45"/>
<line x1="1252.50" y1="1227.00" x2="1252.50" y2="1235.75" stroke="#0a0a0a" stroke-width="1.45"/>
<circle cx="1294.50" cy="1180.00" r="5.4" fill="#e9e9e9" stroke="#0a0a0a" stroke-width="1.85"/>
<circle cx="1310.50" cy="1187.50" r="5.4" fill="#e9e9e9" stroke="#0a0a0a" stroke-width="1.85"/>
<circle cx="1302.50" cy="1192.00" r="5.4" fill="#e9e9e9" stroke="#0a0a0a" stroke-width="1.85"/>
<line x1="1293.70" y1="1181.25" x2="1311.30" y2="1181.25" stroke="#0a0a0a" stroke-width="1.45"/>
<line x1="1302.50" y1="1181.25" x2="1302.50" y2="1186.50" stroke="#0a0a0a" stroke-width="1.45"/>
<text x="1204.44" y="1098.55" font-size="28.5" textLength="111.27" lengthAdjust="spacing" transform="rotate(-48.3 1204.44 1098.55)">P = 0.007</text>
<line x1="1189.75" y1="1114.40" x2="1247.50" y2="1114.40" stroke="#0a0a0a" stroke-width="1.3"/>
<text x="1295.44" y="1128.35" font-size="28.5" textLength="107.73" lengthAdjust="spacing" transform="rotate(-48.3 1295.44 1128.35)">P = 0.001</text>
<line x1="1264.40" y1="1139.50" x2="1321.75" y2="1139.50" stroke="#0a0a0a" stroke-width="1.3"/>
<text x="1093.42" y="1337.38" font-size="30" text-anchor="end" textLength="148.34" lengthAdjust="spacing" transform="rotate(-45 1093.42 1337.38)">Malate m+4</text>
<text x="1283.62" y="1329.88" font-size="30" text-anchor="end" textLength="189.44" lengthAdjust="spacing" transform="rotate(-45 1283.62 1329.88)">Aspartate m+4</text>
<text x="860.00" y="1346.15" font-size="29.3" textLength="404.22" lengthAdjust="spacing" transform="rotate(-90 860.00 1346.15)">Fraction of the metabolite (m+4)</text>
<text x="893.60" y="1240.65" font-size="29.3" textLength="170.80" lengthAdjust="spacing" transform="rotate(-90 893.60 1240.65)">under 0.5% O</text>
<text x="903.75" y="1070.58" font-size="15.5" textLength="10.36" lengthAdjust="spacingAndGlyphs" transform="rotate(-90 903.75 1070.58)">2</text>
<text x="1399.36" y="833.60" font-size="48.5" font-weight="bold" fill="#231f20" stroke="#231f20">e</text>
<text x="1665.12" y="851.00" font-size="29" textLength="120.75" lengthAdjust="spacing">HY15549</text>
<text x="1794.07" y="851.00" font-size="29" textLength="78.89" lengthAdjust="spacing" font-style="italic">Got2_</text>
<text x="1870.62" y="851.00" font-size="29" textLength="107.43" lengthAdjust="spacing">KO cells</text>
<rect x="1433.10" y="874.90" width="21.80" height="22.60" fill="#bcbdc0" stroke="#808185" stroke-width="1.2"/>
<text x="1464.87" y="895.50" font-size="29.5" textLength="79.87" lengthAdjust="spacing">Vector</text>
<rect x="1560.60" y="874.90" width="21.80" height="22.60" fill="#3f57a7" stroke="#3a4f9a" stroke-width="1.2"/>
<text x="1590.00" y="895.50" font-size="29.5" textLength="156.87" lengthAdjust="spacing">cyto-LbNOX</text>
<rect x="1758.10" y="874.90" width="23.00" height="22.60" fill="#faeb33" stroke="#9a923c" stroke-width="1.2"/>
<text x="1789.29" y="895.50" font-size="29.5" textLength="158.83" lengthAdjust="spacing">mito-LbNOX</text>
<rect x="1955.60" y="874.90" width="22.60" height="22.60" fill="#e9385b" stroke="#a03048" stroke-width="1.2"/>
<text x="1982.51" y="895.50" font-size="29.5" textLength="141.05" lengthAdjust="spacing">gpASNase</text>
<line x1="1569.70" y1="956.25" x2="1569.70" y2="1299.55" stroke="#0a0a0a" stroke-width="2.9"/>
<line x1="1553.00" y1="1298.25" x2="2091.25" y2="1298.25" stroke="#0a0a0a" stroke-width="2.9"/>
<line x1="1553.00" y1="1034.50" x2="1569.70" y2="1034.50" stroke="#0a0a0a" stroke-width="2.7"/>
<line x1="1553.00" y1="1166.25" x2="1569.70" y2="1166.25" stroke="#0a0a0a" stroke-width="2.7"/>
<text x="1512.44" y="1041.40" font-size="28.4" textLength="38.87" lengthAdjust="spacing">1.0</text>
<text x="1511.69" y="1174.20" font-size="28.4" textLength="39.50" lengthAdjust="spacing">0.5</text>
<text x="1511.69" y="1306.50" font-size="28.4" textLength="39.62" lengthAdjust="spacing">0.0</text>
<line x1="1697.50" y1="1298.25" x2="1697.50" y2="1314.50" stroke="#0a0a0a" stroke-width="2.7"/>
<line x1="1965.00" y1="1298.25" x2="1965.00" y2="1314.50" stroke="#0a0a0a" stroke-width="2.7"/>
<rect x="1592.05" y="1035.30" width="45.00" height="262.95" fill="#c0c0c0" stroke="#0a0a0a" stroke-width="1.65"/>
<rect x="1647.05" y="1035.30" width="45.00" height="262.95" fill="#3f57a7" stroke="#0a0a0a" stroke-width="1.65"/>
<rect x="1702.05" y="1035.30" width="45.00" height="262.95" fill="#f9ef79" stroke="#0a0a0a" stroke-width="1.65"/>
<rect x="1757.05" y="1035.30" width="45.00" height="262.95" fill="#f37d77" stroke="#0a0a0a" stroke-width="1.65"/>
<rect x="1857.55" y="1290.80" width="45.00" height="7.45" fill="#e9ee93" stroke="#0a0a0a" stroke-width="1.65"/>
<rect x="1912.80" y="1291.55" width="45.00" height="6.70" fill="#e9ee93" stroke="#0a0a0a" stroke-width="1.65"/>
<rect x="1967.80" y="1283.30" width="45.00" height="14.95" fill="#e9ee93" stroke="#0a0a0a" stroke-width="1.65"/>
<rect x="2023.10" y="1183.30" width="45.00" height="114.95" fill="#f37d77" stroke="#0a0a0a" stroke-width="1.65"/>
<line x1="1553.00" y1="1298.25" x2="2091.25" y2="1298.25" stroke="#0a0a0a" stroke-width="2.9"/>
<circle cx="1614.40" cy="990.00" r="5.4" fill="#e9e9e9" stroke="#0a0a0a" stroke-width="1.85"/>
<circle cx="1614.40" cy="1041.25" r="5.4" fill="#e9e9e9" stroke="#0a0a0a" stroke-width="1.85"/>
<circle cx="1614.40" cy="1073.75" r="5.4" fill="#e9e9e9" stroke="#0a0a0a" stroke-width="1.85"/>
<line x1="1602.55" y1="992.50" x2="1626.55" y2="992.50" stroke="#0a0a0a" stroke-width="1.45"/>
<line x1="1614.55" y1="992.50" x2="1614.55" y2="1035.00" stroke="#0a0a0a" stroke-width="1.45"/>
<circle cx="1660.50" cy="994.25" r="5.4" fill="#e9e9e9" stroke="#0a0a0a" stroke-width="1.85"/>
<circle cx="1678.00" cy="1008.25" r="5.4" fill="#e9e9e9" stroke="#0a0a0a" stroke-width="1.85"/>
<circle cx="1669.25" cy="1103.25" r="5.4" fill="#e9e9e9" stroke="#0a0a0a" stroke-width="1.85"/>
<line x1="1657.55" y1="975.75" x2="1681.55" y2="975.75" stroke="#0a0a0a" stroke-width="1.45"/>
<line x1="1669.55" y1="975.75" x2="1669.55" y2="1035.00" stroke="#0a0a0a" stroke-width="1.45"/>
<circle cx="1724.50" cy="992.00" r="5.4" fill="#e9e9e9" stroke="#0a0a0a" stroke-width="1.85"/>
<circle cx="1733.25" cy="1051.25" r="5.4" fill="#e9e9e9" stroke="#0a0a0a" stroke-width="1.85"/>
<circle cx="1715.75" cy="1062.00" r="5.4" fill="#e9e9e9" stroke="#0a0a0a" stroke-width="1.85"/>
<line x1="1712.55" y1="997.50" x2="1736.55" y2="997.50" stroke="#0a0a0a" stroke-width="1.45"/>
<line x1="1724.55" y1="997.50" x2="1724.55" y2="1035.00" stroke="#0a0a0a" stroke-width="1.45"/>
<circle cx="1779.30" cy="991.25" r="5.4" fill="#e9e9e9" stroke="#0a0a0a" stroke-width="1.85"/>
<circle cx="1779.30" cy="1037.50" r="5.4" fill="#e9e9e9" stroke="#0a0a0a" stroke-width="1.85"/>
<circle cx="1779.30" cy="1076.25" r="5.4" fill="#e9e9e9" stroke="#0a0a0a" stroke-width="1.85"/>
<line x1="1767.55" y1="992.00" x2="1791.55" y2="992.00" stroke="#0a0a0a" stroke-width="1.45"/>
<line x1="1779.55" y1="992.00" x2="1779.55" y2="1035.00" stroke="#0a0a0a" stroke-width="1.45"/>
<circle cx="1865.75" cy="1290.00" r="5.4" fill="#e9e9e9" stroke="#0a0a0a" stroke-width="1.85"/>
<circle cx="1879.50" cy="1291.25" r="5.4" fill="#e9e9e9" stroke="#0a0a0a" stroke-width="1.85"/>
<circle cx="1893.75" cy="1289.50" r="5.4" fill="#e9e9e9" stroke="#0a0a0a" stroke-width="1.85"/>
<line x1="1868.05" y1="1289.70" x2="1892.05" y2="1289.70" stroke="#0a0a0a" stroke-width="1.45"/>
<line x1="1880.05" y1="1289.70" x2="1880.05" y2="1290.50" stroke="#0a0a0a" stroke-width="1.45"/>
<circle cx="1921.25" cy="1289.50" r="5.4" fill="#e9e9e9" stroke="#0a0a0a" stroke-width="1.85"/>
<circle cx="1935.00" cy="1291.75" r="5.4" fill="#e9e9e9" stroke="#0a0a0a" stroke-width="1.85"/>
<circle cx="1949.25" cy="1290.75" r="5.4" fill="#e9e9e9" stroke="#0a0a0a" stroke-width="1.85"/>
<line x1="1923.30" y1="1290.60" x2="1947.30" y2="1290.60" stroke="#0a0a0a" stroke-width="1.45"/>
<line x1="1935.30" y1="1290.60" x2="1935.30" y2="1291.25" stroke="#0a0a0a" stroke-width="1.45"/>
<circle cx="1976.25" cy="1279.50" r="5.4" fill="#e9e9e9" stroke="#0a0a0a" stroke-width="1.85"/>
<circle cx="1990.00" cy="1287.00" r="5.4" fill="#e9e9e9" stroke="#0a0a0a" stroke-width="1.85"/>
<circle cx="2003.75" cy="1283.00" r="5.4" fill="#e9e9e9" stroke="#0a0a0a" stroke-width="1.85"/>
<line x1="1978.30" y1="1280.80" x2="2002.30" y2="1280.80" stroke="#0a0a0a" stroke-width="1.45"/>
<line x1="1990.30" y1="1280.80" x2="1990.30" y2="1283.00" stroke="#0a0a0a" stroke-width="1.45"/>
<circle cx="2045.00" cy="1172.00" r="5.4" fill="#e9e9e9" stroke="#0a0a0a" stroke-width="1.85"/>
<circle cx="2053.75" cy="1184.25" r="5.4" fill="#e9e9e9" stroke="#0a0a0a" stroke-width="1.85"/>
<circle cx="2035.75" cy="1194.50" r="5.4" fill="#e9e9e9" stroke="#0a0a0a" stroke-width="1.85"/>
<line x1="2033.60" y1="1173.00" x2="2057.60" y2="1173.00" stroke="#0a0a0a" stroke-width="1.45"/>
<line x1="2045.60" y1="1173.00" x2="2045.60" y2="1183.00" stroke="#0a0a0a" stroke-width="1.45"/>
<text x="1892.60" y="1128.10" font-size="29.3" textLength="140.55" lengthAdjust="spacing">P = 6.8 x 10</text>
<text x="2032.54" y="1117.90" font-size="16" textLength="12.63" lengthAdjust="spacing">-5</text>
<line x1="1885.50" y1="1138.10" x2="2053.75" y2="1138.10" stroke="#0a0a0a" stroke-width="1.3"/>
<text x="1869.35" y="1226.00" font-size="29.3" textLength="113.94" lengthAdjust="spacing">P = 0.026</text>
<line x1="1872.00" y1="1236.25" x2="1998.00" y2="1236.25" stroke="#0a0a0a" stroke-width="1.3"/>
<text x="1489.47" y="1360.70" font-size="29" textLength="89.62" lengthAdjust="spacing">0.5% O</text>
<text x="1576.52" y="1369.90" font-size="15.5" textLength="10.76" lengthAdjust="spacingAndGlyphs">2</text>
<text x="1586.15" y="1360.70" font-size="29">:</text>
<text x="1702.50" y="1360.80" font-size="30" text-anchor="middle">-</text>
<text x="1965.00" y="1364.38" font-size="30" text-anchor="middle">+</text>
<text x="1458.00" y="1338.65" font-size="29.3" textLength="427.38" lengthAdjust="spacing" transform="rotate(-90 1458.00 1338.65)">Relative cell number compared to</text>
<text x="1493.10" y="1267.60" font-size="29.3" textLength="271.00" lengthAdjust="spacing" transform="rotate(-90 1493.10 1267.60)">vector cells at 21% O</text>
<text x="1502.50" y="997.48" font-size="15.5" textLength="10.36" lengthAdjust="spacingAndGlyphs" transform="rotate(-90 1502.50 997.48)">2</text>
</svg>
</body>
</html>
